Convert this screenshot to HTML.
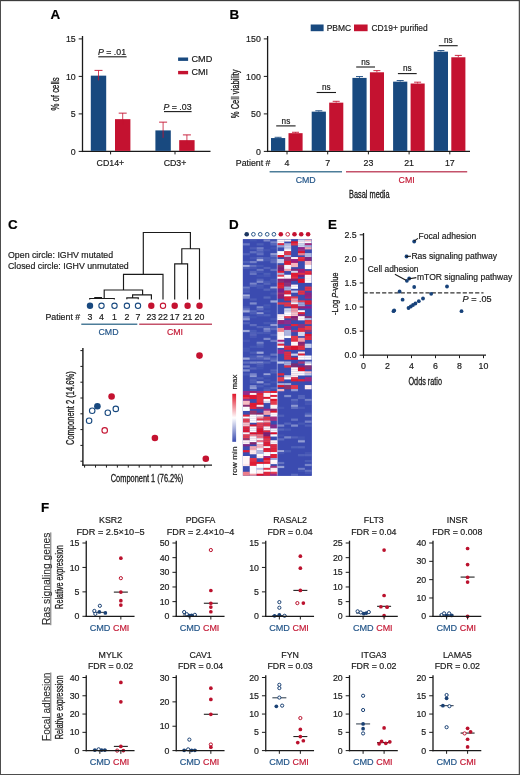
<!DOCTYPE html>
<html lang="en"><head><meta charset="utf-8"><title>Figure</title>
<style>
html,body{margin:0;padding:0;background:#fff;}
body{width:520px;height:775px;overflow:hidden;position:relative;}
svg{display:block;position:absolute;left:0;top:0;font-family:"Liberation Sans",sans-serif;}
#frame{position:absolute;left:0;top:0;width:520px;height:775px;box-sizing:border-box;border:1px solid #4d4d4d;border-top-color:#3c3c3c;box-shadow:inset -1px 0 0 0 rgba(0,0,0,0.18),inset 0 1px 0 0 rgba(0,0,0,0.12);pointer-events:none;}
</style></head><body>
<svg width="520" height="775" viewBox="0 0 520 775">
<rect x="0" y="0" width="520" height="775" fill="#fff"/>
<text transform="translate(50.50,19.00)" font-size="13.4" text-anchor="start" fill="#000" stroke="#000" stroke-width="0.18" font-weight="bold" >A</text>
<text transform="translate(229.50,19.00)" font-size="13.4" text-anchor="start" fill="#000" stroke="#000" stroke-width="0.18" font-weight="bold" >B</text>
<text transform="translate(8.00,229.00)" font-size="13.4" text-anchor="start" fill="#000" stroke="#000" stroke-width="0.18" font-weight="bold" >C</text>
<text transform="translate(229.00,229.00)" font-size="13.4" text-anchor="start" fill="#000" stroke="#000" stroke-width="0.18" font-weight="bold" >D</text>
<text transform="translate(328.00,229.00)" font-size="13.4" text-anchor="start" fill="#000" stroke="#000" stroke-width="0.18" font-weight="bold" >E</text>
<text transform="translate(41.00,512.00)" font-size="13.4" text-anchor="start" fill="#000" stroke="#000" stroke-width="0.18" font-weight="bold" >F</text>
<line x1="82.50" y1="36.00" x2="82.50" y2="152.05" stroke="#1a1a1a" stroke-width="1.3" />
<line x1="81.85" y1="151.40" x2="210.50" y2="151.40" stroke="#1a1a1a" stroke-width="1.3" />
<line x1="78.70" y1="151.40" x2="82.50" y2="151.40" stroke="#1a1a1a" stroke-width="1" />
<text transform="translate(75.70,154.50)" font-size="8.8" text-anchor="end" fill="#1a1a1a" stroke="#1a1a1a" stroke-width="0.18" >0</text>
<line x1="78.70" y1="113.90" x2="82.50" y2="113.90" stroke="#1a1a1a" stroke-width="1" />
<text transform="translate(75.70,117.00)" font-size="8.8" text-anchor="end" fill="#1a1a1a" stroke="#1a1a1a" stroke-width="0.18" >5</text>
<line x1="78.70" y1="76.40" x2="82.50" y2="76.40" stroke="#1a1a1a" stroke-width="1" />
<text transform="translate(75.70,79.50)" font-size="8.8" text-anchor="end" fill="#1a1a1a" stroke="#1a1a1a" stroke-width="0.18" >10</text>
<line x1="78.70" y1="38.90" x2="82.50" y2="38.90" stroke="#1a1a1a" stroke-width="1" />
<text transform="translate(75.70,42.00)" font-size="8.8" text-anchor="end" fill="#1a1a1a" stroke="#1a1a1a" stroke-width="0.18" >15</text>
<rect x="90.80" y="75.65" width="15.40" height="75.25" fill="#18497f"/>
<line x1="98.50" y1="70.40" x2="98.50" y2="80.38" stroke="#c41230" stroke-width="0.8" />
<line x1="94.50" y1="70.40" x2="102.50" y2="70.40" stroke="#c41230" stroke-width="0.9" />
<rect x="115.00" y="119.15" width="15.40" height="31.75" fill="#c41230"/>
<line x1="122.70" y1="113.15" x2="122.70" y2="124.55" stroke="#c41230" stroke-width="0.8" />
<line x1="118.70" y1="113.15" x2="126.70" y2="113.15" stroke="#c41230" stroke-width="0.9" />
<rect x="155.40" y="130.40" width="15.40" height="20.50" fill="#18497f"/>
<line x1="163.10" y1="122.15" x2="163.10" y2="137.83" stroke="#c41230" stroke-width="0.8" />
<line x1="159.10" y1="122.15" x2="167.10" y2="122.15" stroke="#c41230" stroke-width="0.9" />
<rect x="179.20" y="140.15" width="15.40" height="10.75" fill="#c41230"/>
<line x1="186.90" y1="134.90" x2="186.90" y2="144.88" stroke="#c41230" stroke-width="0.8" />
<line x1="182.90" y1="134.90" x2="190.90" y2="134.90" stroke="#c41230" stroke-width="0.9" />
<line x1="110.60" y1="151.40" x2="110.60" y2="154.40" stroke="#1a1a1a" stroke-width="1" />
<line x1="175.00" y1="151.40" x2="175.00" y2="154.40" stroke="#1a1a1a" stroke-width="1" />
<text transform="translate(110.40,165.50)" font-size="8.8" text-anchor="middle" fill="#1a1a1a" stroke="#1a1a1a" stroke-width="0.18" >CD14+</text>
<text transform="translate(175.00,165.50)" font-size="8.8" text-anchor="middle" fill="#1a1a1a" stroke="#1a1a1a" stroke-width="0.18" >CD3+</text>
<text transform="translate(58.80,93.90) rotate(-90)" font-size="10.01" text-anchor="middle" fill="#1a1a1a" stroke="#1a1a1a" stroke-width="0.3"  textLength="33.2" lengthAdjust="spacingAndGlyphs">% of cells</text>
<text transform="translate(112.00,55.00)" font-size="8.8" text-anchor="middle" fill="#1a1a1a" stroke="#1a1a1a" stroke-width="0.18" ><tspan font-style="italic">P</tspan> = .01</text>
<line x1="98.30" y1="56.80" x2="126.60" y2="56.80" stroke="#1a1a1a" stroke-width="1.1" />
<text transform="translate(177.50,109.50)" font-size="8.8" text-anchor="middle" fill="#1a1a1a" stroke="#1a1a1a" stroke-width="0.18" ><tspan font-style="italic">P</tspan> = .03</text>
<line x1="164.00" y1="111.60" x2="191.60" y2="111.60" stroke="#1a1a1a" stroke-width="1.1" />
<rect x="178.10" y="57.50" width="10.00" height="3.40" fill="#18497f"/>
<text transform="translate(191.50,61.80)" font-size="8.8" text-anchor="start" fill="#1a1a1a" stroke="#1a1a1a" stroke-width="0.18"  textLength="20.8" lengthAdjust="spacingAndGlyphs">CMD</text>
<rect x="178.10" y="70.90" width="10.00" height="3.40" fill="#c41230"/>
<text transform="translate(191.50,75.30)" font-size="8.8" text-anchor="start" fill="#1a1a1a" stroke="#1a1a1a" stroke-width="0.18"  textLength="16.5" lengthAdjust="spacingAndGlyphs">CMI</text>
<line x1="267.60" y1="36.00" x2="267.60" y2="152.05" stroke="#1a1a1a" stroke-width="1.3" />
<line x1="266.95" y1="151.40" x2="470.00" y2="151.40" stroke="#1a1a1a" stroke-width="1.3" />
<line x1="263.80" y1="151.40" x2="267.60" y2="151.40" stroke="#1a1a1a" stroke-width="1" />
<text transform="translate(260.80,154.50)" font-size="8.8" text-anchor="end" fill="#1a1a1a" stroke="#1a1a1a" stroke-width="0.18" >0</text>
<line x1="263.80" y1="113.90" x2="267.60" y2="113.90" stroke="#1a1a1a" stroke-width="1" />
<text transform="translate(260.80,117.00)" font-size="8.8" text-anchor="end" fill="#1a1a1a" stroke="#1a1a1a" stroke-width="0.18" >50</text>
<line x1="263.80" y1="76.40" x2="267.60" y2="76.40" stroke="#1a1a1a" stroke-width="1" />
<text transform="translate(260.80,79.50)" font-size="8.8" text-anchor="end" fill="#1a1a1a" stroke="#1a1a1a" stroke-width="0.18" >100</text>
<line x1="263.80" y1="38.90" x2="267.60" y2="38.90" stroke="#1a1a1a" stroke-width="1" />
<text transform="translate(260.80,42.00)" font-size="8.8" text-anchor="end" fill="#1a1a1a" stroke="#1a1a1a" stroke-width="0.18" >150</text>
<rect x="271.00" y="138.05" width="14.20" height="12.85" fill="#18497f"/>
<rect x="288.50" y="133.18" width="14.10" height="17.73" fill="#c41230"/>
<line x1="278.10" y1="138.05" x2="278.10" y2="137.30" stroke="#18497f" stroke-width="0.8" />
<line x1="274.60" y1="137.30" x2="281.60" y2="137.30" stroke="#18497f" stroke-width="0.9" />
<line x1="295.50" y1="133.18" x2="295.50" y2="132.28" stroke="#c41230" stroke-width="0.8" />
<line x1="292.00" y1="132.28" x2="299.00" y2="132.28" stroke="#c41230" stroke-width="0.9" />
<line x1="287.00" y1="151.40" x2="287.00" y2="154.40" stroke="#1a1a1a" stroke-width="1" />
<text transform="translate(287.00,165.80)" font-size="8.8" text-anchor="middle" fill="#1a1a1a" stroke="#1a1a1a" stroke-width="0.18" >4</text>
<text transform="translate(285.90,123.50)" font-size="8.2" text-anchor="middle" fill="#1a1a1a" stroke="#1a1a1a" stroke-width="0.18" >ns</text>
<line x1="276.20" y1="125.90" x2="295.60" y2="125.90" stroke="#1a1a1a" stroke-width="1.1" />
<rect x="311.70" y="111.65" width="14.20" height="39.25" fill="#18497f"/>
<rect x="329.20" y="102.65" width="14.10" height="48.25" fill="#c41230"/>
<line x1="318.80" y1="111.65" x2="318.80" y2="110.75" stroke="#18497f" stroke-width="0.8" />
<line x1="315.30" y1="110.75" x2="322.30" y2="110.75" stroke="#18497f" stroke-width="0.9" />
<line x1="336.20" y1="102.65" x2="336.20" y2="101.30" stroke="#c41230" stroke-width="0.8" />
<line x1="332.70" y1="101.30" x2="339.70" y2="101.30" stroke="#c41230" stroke-width="0.9" />
<line x1="327.70" y1="151.40" x2="327.70" y2="154.40" stroke="#1a1a1a" stroke-width="1" />
<text transform="translate(327.70,165.80)" font-size="8.8" text-anchor="middle" fill="#1a1a1a" stroke="#1a1a1a" stroke-width="0.18" >7</text>
<text transform="translate(326.30,90.10)" font-size="8.2" text-anchor="middle" fill="#1a1a1a" stroke="#1a1a1a" stroke-width="0.18" >ns</text>
<line x1="316.60" y1="92.50" x2="336.00" y2="92.50" stroke="#1a1a1a" stroke-width="1.1" />
<rect x="352.40" y="77.90" width="14.20" height="73.00" fill="#18497f"/>
<rect x="369.90" y="72.28" width="14.10" height="78.62" fill="#c41230"/>
<line x1="359.50" y1="77.90" x2="359.50" y2="76.55" stroke="#18497f" stroke-width="0.8" />
<line x1="356.00" y1="76.55" x2="363.00" y2="76.55" stroke="#18497f" stroke-width="0.9" />
<line x1="376.90" y1="72.28" x2="376.90" y2="70.62" stroke="#c41230" stroke-width="0.8" />
<line x1="373.40" y1="70.62" x2="380.40" y2="70.62" stroke="#c41230" stroke-width="0.9" />
<line x1="368.40" y1="151.40" x2="368.40" y2="154.40" stroke="#1a1a1a" stroke-width="1" />
<text transform="translate(368.40,165.80)" font-size="8.8" text-anchor="middle" fill="#1a1a1a" stroke="#1a1a1a" stroke-width="0.18" >23</text>
<text transform="translate(365.60,64.60)" font-size="8.2" text-anchor="middle" fill="#1a1a1a" stroke="#1a1a1a" stroke-width="0.18" >ns</text>
<line x1="356.20" y1="67.00" x2="375.00" y2="67.00" stroke="#1a1a1a" stroke-width="1.1" />
<rect x="393.10" y="81.65" width="14.20" height="69.25" fill="#18497f"/>
<rect x="410.60" y="83.53" width="14.10" height="67.38" fill="#c41230"/>
<line x1="400.20" y1="81.65" x2="400.20" y2="80.53" stroke="#18497f" stroke-width="0.8" />
<line x1="396.70" y1="80.53" x2="403.70" y2="80.53" stroke="#18497f" stroke-width="0.9" />
<line x1="417.60" y1="83.53" x2="417.60" y2="82.18" stroke="#c41230" stroke-width="0.8" />
<line x1="414.10" y1="82.18" x2="421.10" y2="82.18" stroke="#c41230" stroke-width="0.9" />
<line x1="409.10" y1="151.40" x2="409.10" y2="154.40" stroke="#1a1a1a" stroke-width="1" />
<text transform="translate(409.10,165.80)" font-size="8.8" text-anchor="middle" fill="#1a1a1a" stroke="#1a1a1a" stroke-width="0.18" >21</text>
<text transform="translate(407.30,71.20)" font-size="8.2" text-anchor="middle" fill="#1a1a1a" stroke="#1a1a1a" stroke-width="0.18" >ns</text>
<line x1="397.90" y1="73.60" x2="416.70" y2="73.60" stroke="#1a1a1a" stroke-width="1.1" />
<rect x="433.80" y="51.65" width="14.20" height="99.25" fill="#18497f"/>
<rect x="451.30" y="57.28" width="14.10" height="93.62" fill="#c41230"/>
<line x1="440.90" y1="51.65" x2="440.90" y2="50.53" stroke="#18497f" stroke-width="0.8" />
<line x1="437.40" y1="50.53" x2="444.40" y2="50.53" stroke="#18497f" stroke-width="0.9" />
<line x1="458.30" y1="57.28" x2="458.30" y2="55.40" stroke="#c41230" stroke-width="0.8" />
<line x1="454.80" y1="55.40" x2="461.80" y2="55.40" stroke="#c41230" stroke-width="0.9" />
<line x1="449.80" y1="151.40" x2="449.80" y2="154.40" stroke="#1a1a1a" stroke-width="1" />
<text transform="translate(449.80,165.80)" font-size="8.8" text-anchor="middle" fill="#1a1a1a" stroke="#1a1a1a" stroke-width="0.18" >17</text>
<text transform="translate(448.25,43.30)" font-size="8.2" text-anchor="middle" fill="#1a1a1a" stroke="#1a1a1a" stroke-width="0.18" >ns</text>
<line x1="438.80" y1="45.70" x2="457.70" y2="45.70" stroke="#1a1a1a" stroke-width="1.1" />
<text transform="translate(238.60,93.80) rotate(-90)" font-size="10.01" text-anchor="middle" fill="#1a1a1a" stroke="#1a1a1a" stroke-width="0.3"  textLength="48.8" lengthAdjust="spacingAndGlyphs">% Cell viability</text>
<text transform="translate(270.50,165.80)" font-size="8.8" text-anchor="end" fill="#1a1a1a" stroke="#1a1a1a" stroke-width="0.18" >Patient #</text>
<line x1="269.60" y1="171.80" x2="342.00" y2="171.80" stroke="#4d7d99" stroke-width="1.4" />
<line x1="346.00" y1="171.80" x2="467.20" y2="171.80" stroke="#c4526a" stroke-width="1.4" />
<text transform="translate(305.70,183.00)" font-size="8.8" text-anchor="middle" fill="#245689" stroke="#245689" stroke-width="0.18" >CMD</text>
<text transform="translate(406.60,183.00)" font-size="8.8" text-anchor="middle" fill="#c41a36" stroke="#c41a36" stroke-width="0.18" >CMI</text>
<text transform="translate(369.30,197.70)" font-size="10.01" text-anchor="middle" fill="#1a1a1a" stroke="#1a1a1a" stroke-width="0.3"  textLength="40.6" lengthAdjust="spacingAndGlyphs">Basal media</text>
<rect x="310.70" y="24.50" width="12.90" height="6.70" fill="#18497f"/>
<text transform="translate(326.70,31.00)" font-size="8.8" text-anchor="start" fill="#1a1a1a" stroke="#1a1a1a" stroke-width="0.18"  textLength="24.5" lengthAdjust="spacingAndGlyphs">PBMC</text>
<rect x="354.00" y="24.50" width="13.60" height="6.70" fill="#c41230"/>
<text transform="translate(371.40,31.00)" font-size="8.8" text-anchor="start" fill="#1a1a1a" stroke="#1a1a1a" stroke-width="0.18"  textLength="56.3" lengthAdjust="spacingAndGlyphs">CD19+ purified</text>
<text transform="translate(8.00,257.50)" font-size="8.8" text-anchor="start" fill="#1a1a1a" stroke="#1a1a1a" stroke-width="0.18" >Open circle: IGHV mutated</text>
<text transform="translate(8.00,268.80)" font-size="8.8" text-anchor="start" fill="#1a1a1a" stroke="#1a1a1a" stroke-width="0.18" >Closed circle: IGHV unmutated</text>
<path d="M143.3,274.3 L143.3,232.5 L190.4,232.5 L190.4,248.7 M181.8,263.8 L181.8,248.7 L199.5,248.7 L199.5,299.5 M174.7,299.5 L174.7,263.8 L187.6,263.8 L187.6,299.5 M123.5,290.0 L123.5,274.3 L163.0,274.3 L163.0,299.5 M104.2,298.4 L104.2,290.0 L142.6,290.0 L142.6,294.8 M132.6,297.7 L132.6,294.8 L151.4,294.8 L151.4,299.5 M126.8,299.3 L126.8,297.8 L138.3,297.8 L138.3,299.3 M89.7,299.5 L89.7,298.5 L114.3,298.5 L114.3,299.5 M94.8,298.4 L94.8,297.6 L101.5,297.6 L101.5,298.4" fill="none" stroke="#1a1a1a" stroke-width="1.15"/>
<circle cx="90.00" cy="305.80" r="3.2" fill="#18497f"/>
<text transform="translate(90.00,319.90)" font-size="8.8" text-anchor="middle" fill="#1a1a1a" stroke="#1a1a1a" stroke-width="0.18" >3</text>
<circle cx="101.50" cy="305.80" r="2.6750000000000003" fill="#fff" stroke="#18497f" stroke-width="1.05"/>
<text transform="translate(101.50,319.90)" font-size="8.8" text-anchor="middle" fill="#1a1a1a" stroke="#1a1a1a" stroke-width="0.18" >4</text>
<circle cx="114.50" cy="305.80" r="2.6750000000000003" fill="#fff" stroke="#18497f" stroke-width="1.05"/>
<text transform="translate(114.50,319.90)" font-size="8.8" text-anchor="middle" fill="#1a1a1a" stroke="#1a1a1a" stroke-width="0.18" >1</text>
<circle cx="126.90" cy="305.80" r="2.6750000000000003" fill="#fff" stroke="#18497f" stroke-width="1.05"/>
<text transform="translate(126.90,319.90)" font-size="8.8" text-anchor="middle" fill="#1a1a1a" stroke="#1a1a1a" stroke-width="0.18" >2</text>
<circle cx="138.00" cy="305.80" r="2.6750000000000003" fill="#fff" stroke="#18497f" stroke-width="1.05"/>
<text transform="translate(138.00,319.90)" font-size="8.8" text-anchor="middle" fill="#1a1a1a" stroke="#1a1a1a" stroke-width="0.18" >7</text>
<circle cx="151.30" cy="305.80" r="3.2" fill="#c41230"/>
<text transform="translate(151.30,319.90)" font-size="8.8" text-anchor="middle" fill="#1a1a1a" stroke="#1a1a1a" stroke-width="0.18" >23</text>
<circle cx="163.00" cy="305.80" r="2.6750000000000003" fill="#fff" stroke="#c41230" stroke-width="1.05"/>
<text transform="translate(163.00,319.90)" font-size="8.8" text-anchor="middle" fill="#1a1a1a" stroke="#1a1a1a" stroke-width="0.18" >22</text>
<circle cx="174.70" cy="305.80" r="3.2" fill="#c41230"/>
<text transform="translate(174.70,319.90)" font-size="8.8" text-anchor="middle" fill="#1a1a1a" stroke="#1a1a1a" stroke-width="0.18" >17</text>
<circle cx="187.60" cy="305.80" r="3.2" fill="#c41230"/>
<text transform="translate(187.60,319.90)" font-size="8.8" text-anchor="middle" fill="#1a1a1a" stroke="#1a1a1a" stroke-width="0.18" >21</text>
<circle cx="199.50" cy="305.80" r="3.2" fill="#c41230"/>
<text transform="translate(199.50,319.90)" font-size="8.8" text-anchor="middle" fill="#1a1a1a" stroke="#1a1a1a" stroke-width="0.18" >20</text>
<text transform="translate(80.20,319.90)" font-size="8.8" text-anchor="end" fill="#1a1a1a" stroke="#1a1a1a" stroke-width="0.18" >Patient #</text>
<line x1="81.30" y1="324.30" x2="137.30" y2="324.30" stroke="#4d7d99" stroke-width="1.4" />
<line x1="139.20" y1="324.30" x2="212.00" y2="324.30" stroke="#c4526a" stroke-width="1.4" />
<text transform="translate(108.50,334.80)" font-size="8.8" text-anchor="middle" fill="#245689" stroke="#245689" stroke-width="0.18" >CMD</text>
<text transform="translate(175.00,334.80)" font-size="8.8" text-anchor="middle" fill="#c41a36" stroke="#c41a36" stroke-width="0.18" >CMI</text>
<line x1="82.90" y1="348.00" x2="82.90" y2="465.80" stroke="#1a1a1a" stroke-width="1.4" />
<line x1="82.20" y1="465.10" x2="212.00" y2="465.10" stroke="#1a1a1a" stroke-width="1.4" />
<line x1="80.40" y1="350.60" x2="82.90" y2="350.60" stroke="#1a1a1a" stroke-width="1" />
<line x1="80.40" y1="366.40" x2="82.90" y2="366.40" stroke="#1a1a1a" stroke-width="1" />
<line x1="80.40" y1="382.20" x2="82.90" y2="382.20" stroke="#1a1a1a" stroke-width="1" />
<line x1="80.40" y1="398.00" x2="82.90" y2="398.00" stroke="#1a1a1a" stroke-width="1" />
<line x1="80.40" y1="413.80" x2="82.90" y2="413.80" stroke="#1a1a1a" stroke-width="1" />
<line x1="80.40" y1="429.60" x2="82.90" y2="429.60" stroke="#1a1a1a" stroke-width="1" />
<line x1="80.40" y1="445.40" x2="82.90" y2="445.40" stroke="#1a1a1a" stroke-width="1" />
<line x1="80.40" y1="461.20" x2="82.90" y2="461.20" stroke="#1a1a1a" stroke-width="1" />
<line x1="84.60" y1="465.10" x2="84.60" y2="467.60" stroke="#1a1a1a" stroke-width="1" />
<line x1="95.52" y1="465.10" x2="95.52" y2="467.60" stroke="#1a1a1a" stroke-width="1" />
<line x1="106.44" y1="465.10" x2="106.44" y2="467.60" stroke="#1a1a1a" stroke-width="1" />
<line x1="117.36" y1="465.10" x2="117.36" y2="467.60" stroke="#1a1a1a" stroke-width="1" />
<line x1="128.28" y1="465.10" x2="128.28" y2="467.60" stroke="#1a1a1a" stroke-width="1" />
<line x1="139.20" y1="465.10" x2="139.20" y2="467.60" stroke="#1a1a1a" stroke-width="1" />
<line x1="150.12" y1="465.10" x2="150.12" y2="467.60" stroke="#1a1a1a" stroke-width="1" />
<line x1="161.04" y1="465.10" x2="161.04" y2="467.60" stroke="#1a1a1a" stroke-width="1" />
<line x1="171.96" y1="465.10" x2="171.96" y2="467.60" stroke="#1a1a1a" stroke-width="1" />
<line x1="182.88" y1="465.10" x2="182.88" y2="467.60" stroke="#1a1a1a" stroke-width="1" />
<line x1="193.80" y1="465.10" x2="193.80" y2="467.60" stroke="#1a1a1a" stroke-width="1" />
<line x1="204.72" y1="465.10" x2="204.72" y2="467.60" stroke="#1a1a1a" stroke-width="1" />
<circle cx="199.50" cy="355.60" r="3.3" fill="#c41230"/>
<circle cx="111.60" cy="396.50" r="3.3" fill="#c41230"/>
<circle cx="97.40" cy="406.20" r="3.3" fill="#18497f"/>
<circle cx="92.20" cy="410.70" r="2.75" fill="#fff" stroke="#18497f" stroke-width="1.1"/>
<circle cx="115.80" cy="408.90" r="2.75" fill="#fff" stroke="#18497f" stroke-width="1.1"/>
<circle cx="107.80" cy="412.70" r="2.75" fill="#fff" stroke="#18497f" stroke-width="1.1"/>
<circle cx="89.10" cy="420.70" r="2.75" fill="#fff" stroke="#18497f" stroke-width="1.1"/>
<circle cx="104.70" cy="430.40" r="2.75" fill="#fff" stroke="#c41230" stroke-width="1.1"/>
<circle cx="154.90" cy="438.00" r="3.3" fill="#c41230"/>
<circle cx="205.80" cy="458.80" r="3.3" fill="#c41230"/>
<text transform="translate(147.00,481.60)" font-size="10.01" text-anchor="middle" fill="#1a1a1a" stroke="#1a1a1a" stroke-width="0.3"  textLength="72.5" lengthAdjust="spacingAndGlyphs">Component 1 (76.2%)</text>
<text transform="translate(73.80,408.20) rotate(-90)" font-size="10.01" text-anchor="middle" fill="#1a1a1a" stroke="#1a1a1a" stroke-width="0.3"  textLength="73.7" lengthAdjust="spacingAndGlyphs">Component 2 (14.6%)</text>
<rect x="242.90" y="239.30" width="68.80" height="236.40" fill="#3a4cb0"/>
<defs><filter id="hb" x="-5%" y="-5%" width="110%" height="110%"><feGaussianBlur stdDeviation="0.35 0.55"/></filter><clipPath id="hc"><rect x="242.90" y="239.30" width="68.80" height="236.40"/></clipPath></defs>
<g clip-path="url(#hc)"><g filter="url(#hb)"><rect x="239.90" y="236.30" width="74.80" height="242.40" fill="#3a4cb0"/><rect x="242.90" y="243.24" width="6.93" height="2.22" fill="#6a77c3"/><rect x="242.90" y="253.09" width="6.93" height="2.22" fill="#5261b9"/><rect x="242.90" y="260.97" width="6.93" height="2.22" fill="#5060b9"/><rect x="242.90" y="264.91" width="6.93" height="2.22" fill="#a7afdc"/><rect x="242.90" y="266.88" width="6.93" height="2.22" fill="#4e5eb8"/><rect x="242.90" y="286.58" width="6.93" height="2.22" fill="#6c7ac4"/><rect x="242.90" y="288.55" width="6.93" height="2.22" fill="#4c5cb7"/><rect x="242.90" y="290.52" width="6.93" height="2.22" fill="#4b5bb7"/><rect x="242.90" y="294.46" width="6.93" height="2.22" fill="#a8b0dc"/><rect x="242.90" y="296.43" width="6.93" height="2.22" fill="#7481c7"/><rect x="242.90" y="306.28" width="6.93" height="2.22" fill="#4a5ab6"/><rect x="242.90" y="308.25" width="6.93" height="2.22" fill="#6674c2"/><rect x="242.90" y="310.22" width="6.93" height="2.22" fill="#a1aad9"/><rect x="242.90" y="316.13" width="6.93" height="2.22" fill="#6a78c3"/><rect x="242.90" y="318.10" width="6.93" height="2.22" fill="#8c96d1"/><rect x="242.90" y="322.04" width="6.93" height="2.22" fill="#5161b9"/><rect x="242.90" y="329.92" width="6.93" height="2.22" fill="#9da6d8"/><rect x="242.90" y="339.77" width="6.93" height="2.22" fill="#4556b5"/><rect x="242.90" y="347.65" width="6.93" height="2.22" fill="#4456b4"/><rect x="242.90" y="349.62" width="6.93" height="2.22" fill="#4455b4"/><rect x="242.90" y="357.50" width="6.93" height="2.22" fill="#9fa8d9"/><rect x="242.90" y="361.44" width="6.93" height="2.22" fill="#5f6dbf"/><rect x="242.90" y="365.38" width="6.93" height="2.22" fill="#717ec6"/><rect x="242.90" y="369.32" width="6.93" height="2.22" fill="#838ecd"/><rect x="242.90" y="373.26" width="6.93" height="2.22" fill="#4859b6"/><rect x="242.90" y="390.99" width="6.93" height="2.22" fill="#922a8b"/><rect x="242.90" y="392.96" width="6.93" height="2.22" fill="#922a8b"/><rect x="242.90" y="394.93" width="6.93" height="2.22" fill="#df142c"/><rect x="242.90" y="396.90" width="6.93" height="2.22" fill="#e3374b"/><rect x="242.90" y="398.87" width="6.93" height="2.22" fill="#85358c"/><rect x="242.90" y="400.84" width="6.93" height="2.22" fill="#f6bdc3"/><rect x="242.90" y="402.81" width="6.93" height="2.22" fill="#f6bdc3"/><rect x="242.90" y="404.78" width="6.93" height="2.22" fill="#872e73"/><rect x="242.90" y="406.75" width="6.93" height="2.22" fill="#fcfdfe"/><rect x="242.90" y="408.72" width="6.93" height="2.22" fill="#fcfdfe"/><rect x="242.90" y="414.63" width="6.93" height="2.22" fill="#e1253b"/><rect x="242.90" y="416.60" width="6.93" height="2.22" fill="#fcfcfe"/><rect x="242.90" y="418.57" width="6.93" height="2.22" fill="#e43f52"/><rect x="242.90" y="420.54" width="6.93" height="2.22" fill="#e43f52"/><rect x="242.90" y="422.51" width="6.93" height="2.22" fill="#f6c0c7"/><rect x="242.90" y="424.48" width="6.93" height="2.22" fill="#f6c0c7"/><rect x="242.90" y="426.45" width="6.93" height="2.22" fill="#e1243a"/><rect x="242.90" y="428.42" width="6.93" height="2.22" fill="#e1243a"/><rect x="242.90" y="430.39" width="6.93" height="2.22" fill="#df152d"/><rect x="242.90" y="432.36" width="6.93" height="2.22" fill="#fdf3f4"/><rect x="242.90" y="434.33" width="6.93" height="2.22" fill="#e43e51"/><rect x="242.90" y="436.30" width="6.93" height="2.22" fill="#e43e51"/><rect x="242.90" y="438.27" width="6.93" height="2.22" fill="#9c3569"/><rect x="242.90" y="440.24" width="6.93" height="2.22" fill="#fdf1f3"/><rect x="242.90" y="442.21" width="6.93" height="2.22" fill="#fdf1f3"/><rect x="242.90" y="444.18" width="6.93" height="2.22" fill="#802986"/><rect x="242.90" y="450.09" width="6.93" height="2.22" fill="#e01f36"/><rect x="242.90" y="456.00" width="6.93" height="2.22" fill="#fef5f6"/><rect x="242.90" y="457.97" width="6.93" height="2.22" fill="#fef5f6"/><rect x="242.90" y="459.94" width="6.93" height="2.22" fill="#fef6f7"/><rect x="242.90" y="461.91" width="6.93" height="2.22" fill="#fef6f7"/><rect x="242.90" y="463.88" width="6.93" height="2.22" fill="#fce7ea"/><rect x="242.90" y="471.76" width="6.93" height="2.22" fill="#ed7e8b"/><rect x="242.90" y="473.73" width="6.93" height="2.22" fill="#ed7e8b"/><rect x="249.78" y="239.30" width="6.93" height="2.22" fill="#4254b3"/><rect x="249.78" y="247.18" width="6.93" height="2.22" fill="#4c5cb7"/><rect x="249.78" y="251.12" width="6.93" height="2.22" fill="#616fc0"/><rect x="249.78" y="257.03" width="6.93" height="2.22" fill="#4657b5"/><rect x="249.78" y="260.97" width="6.93" height="2.22" fill="#727fc7"/><rect x="249.78" y="264.91" width="6.93" height="2.22" fill="#6472c1"/><rect x="249.78" y="266.88" width="6.93" height="2.22" fill="#4657b5"/><rect x="249.78" y="270.82" width="6.93" height="2.22" fill="#5464ba"/><rect x="249.78" y="272.79" width="6.93" height="2.22" fill="#6674c2"/><rect x="249.78" y="282.64" width="6.93" height="2.22" fill="#7a86ca"/><rect x="249.78" y="284.61" width="6.93" height="2.22" fill="#5564bb"/><rect x="249.78" y="298.40" width="6.93" height="2.22" fill="#4c5cb7"/><rect x="249.78" y="302.34" width="6.93" height="2.22" fill="#808ccc"/><rect x="249.78" y="310.22" width="6.93" height="2.22" fill="#5767bc"/><rect x="249.78" y="312.19" width="6.93" height="2.22" fill="#4d5db8"/><rect x="249.78" y="316.13" width="6.93" height="2.22" fill="#4254b3"/><rect x="249.78" y="324.01" width="6.93" height="2.22" fill="#606ebf"/><rect x="249.78" y="329.92" width="6.93" height="2.22" fill="#4b5bb7"/><rect x="249.78" y="331.89" width="6.93" height="2.22" fill="#4f5fb8"/><rect x="249.78" y="333.86" width="6.93" height="2.22" fill="#5564bb"/><rect x="249.78" y="335.83" width="6.93" height="2.22" fill="#4657b5"/><rect x="249.78" y="345.68" width="6.93" height="2.22" fill="#4556b5"/><rect x="249.78" y="351.59" width="6.93" height="2.22" fill="#4c5cb7"/><rect x="249.78" y="355.53" width="6.93" height="2.22" fill="#4a5ab6"/><rect x="249.78" y="357.50" width="6.93" height="2.22" fill="#5463ba"/><rect x="249.78" y="361.44" width="6.93" height="2.22" fill="#7582c8"/><rect x="249.78" y="367.35" width="6.93" height="2.22" fill="#5463ba"/><rect x="249.78" y="373.26" width="6.93" height="2.22" fill="#7884c9"/><rect x="249.78" y="375.23" width="6.93" height="2.22" fill="#8f99d2"/><rect x="249.78" y="377.20" width="6.93" height="2.22" fill="#4657b5"/><rect x="249.78" y="379.17" width="6.93" height="2.22" fill="#5262ba"/><rect x="249.78" y="381.14" width="6.93" height="2.22" fill="#5060b9"/><rect x="249.78" y="385.08" width="6.93" height="2.22" fill="#808ccc"/><rect x="249.78" y="387.05" width="6.93" height="2.22" fill="#929cd3"/><rect x="249.78" y="389.02" width="6.93" height="2.22" fill="#4859b6"/><rect x="249.78" y="390.99" width="6.93" height="2.22" fill="#a3236c"/><rect x="249.78" y="392.96" width="6.93" height="2.22" fill="#fdf0f1"/><rect x="249.78" y="394.93" width="6.93" height="2.22" fill="#df1930"/><rect x="249.78" y="396.90" width="6.93" height="2.22" fill="#df1930"/><rect x="249.78" y="402.81" width="6.93" height="2.22" fill="#df1a31"/><rect x="249.78" y="404.78" width="6.93" height="2.22" fill="#df1a31"/><rect x="249.78" y="406.75" width="6.93" height="2.22" fill="#e1273d"/><rect x="249.78" y="410.69" width="6.93" height="2.22" fill="#93356c"/><rect x="249.78" y="412.66" width="6.93" height="2.22" fill="#93356c"/><rect x="249.78" y="414.63" width="6.93" height="2.22" fill="#fcfdfe"/><rect x="249.78" y="416.60" width="6.93" height="2.22" fill="#fef9fa"/><rect x="249.78" y="418.57" width="6.93" height="2.22" fill="#fdfdfe"/><rect x="249.78" y="420.54" width="6.93" height="2.22" fill="#fdfdfe"/><rect x="249.78" y="424.48" width="6.93" height="2.22" fill="#df172e"/><rect x="249.78" y="426.45" width="6.93" height="2.22" fill="#fef7f8"/><rect x="249.78" y="428.42" width="6.93" height="2.22" fill="#fef7f8"/><rect x="249.78" y="430.39" width="6.93" height="2.22" fill="#fefafb"/><rect x="249.78" y="432.36" width="6.93" height="2.22" fill="#de1129"/><rect x="249.78" y="434.33" width="6.93" height="2.22" fill="#ee818d"/><rect x="249.78" y="436.30" width="6.93" height="2.22" fill="#fdf3f4"/><rect x="249.78" y="438.27" width="6.93" height="2.22" fill="#fdf3f4"/><rect x="249.78" y="440.24" width="6.93" height="2.22" fill="#fffefe"/><rect x="249.78" y="442.21" width="6.93" height="2.22" fill="#89276e"/><rect x="249.78" y="446.15" width="6.93" height="2.22" fill="#f3aab3"/><rect x="249.78" y="448.12" width="6.93" height="2.22" fill="#f3aab3"/><rect x="249.78" y="450.09" width="6.93" height="2.22" fill="#fceaec"/><rect x="249.78" y="452.06" width="6.93" height="2.22" fill="#fceaec"/><rect x="249.78" y="457.97" width="6.93" height="2.22" fill="#e33549"/><rect x="249.78" y="459.94" width="6.93" height="2.22" fill="#e22f44"/><rect x="249.78" y="461.91" width="6.93" height="2.22" fill="#e01d34"/><rect x="249.78" y="463.88" width="6.93" height="2.22" fill="#e01d34"/><rect x="249.78" y="465.85" width="6.93" height="2.22" fill="#fbfbfd"/><rect x="249.78" y="467.82" width="6.93" height="2.22" fill="#fbfbfd"/><rect x="249.78" y="469.79" width="6.93" height="2.22" fill="#fffdfd"/><rect x="249.78" y="471.76" width="6.93" height="2.22" fill="#fffdfd"/><rect x="249.78" y="473.73" width="6.93" height="2.22" fill="#f198a2"/><rect x="256.66" y="243.24" width="6.93" height="2.22" fill="#4e5fb8"/><rect x="256.66" y="247.18" width="6.93" height="2.22" fill="#707dc6"/><rect x="256.66" y="249.15" width="6.93" height="2.22" fill="#606ebf"/><rect x="256.66" y="251.12" width="6.93" height="2.22" fill="#5262ba"/><rect x="256.66" y="253.09" width="6.93" height="2.22" fill="#6371c1"/><rect x="256.66" y="257.03" width="6.93" height="2.22" fill="#5f6ebf"/><rect x="256.66" y="259.00" width="6.93" height="2.22" fill="#a3abda"/><rect x="256.66" y="264.91" width="6.93" height="2.22" fill="#4758b5"/><rect x="256.66" y="268.85" width="6.93" height="2.22" fill="#6876c2"/><rect x="256.66" y="270.82" width="6.93" height="2.22" fill="#4455b4"/><rect x="256.66" y="274.76" width="6.93" height="2.22" fill="#4253b3"/><rect x="256.66" y="278.70" width="6.93" height="2.22" fill="#5463ba"/><rect x="256.66" y="280.67" width="6.93" height="2.22" fill="#7e8acb"/><rect x="256.66" y="284.61" width="6.93" height="2.22" fill="#4c5cb7"/><rect x="256.66" y="286.58" width="6.93" height="2.22" fill="#4657b5"/><rect x="256.66" y="306.28" width="6.93" height="2.22" fill="#808ccc"/><rect x="256.66" y="308.25" width="6.93" height="2.22" fill="#5a69bd"/><rect x="256.66" y="312.19" width="6.93" height="2.22" fill="#8f99d2"/><rect x="256.66" y="314.16" width="6.93" height="2.22" fill="#4859b6"/><rect x="256.66" y="325.98" width="6.93" height="2.22" fill="#5362ba"/><rect x="256.66" y="331.89" width="6.93" height="2.22" fill="#4a5ab6"/><rect x="256.66" y="341.74" width="6.93" height="2.22" fill="#7885c9"/><rect x="256.66" y="343.71" width="6.93" height="2.22" fill="#5363ba"/><rect x="256.66" y="345.68" width="6.93" height="2.22" fill="#4a5ab6"/><rect x="256.66" y="351.59" width="6.93" height="2.22" fill="#9fa8d9"/><rect x="256.66" y="355.53" width="6.93" height="2.22" fill="#7682c8"/><rect x="256.66" y="357.50" width="6.93" height="2.22" fill="#5262ba"/><rect x="256.66" y="361.44" width="6.93" height="2.22" fill="#7c88ca"/><rect x="256.66" y="363.41" width="6.93" height="2.22" fill="#5161b9"/><rect x="256.66" y="365.38" width="6.93" height="2.22" fill="#4a5ab6"/><rect x="256.66" y="367.35" width="6.93" height="2.22" fill="#4354b4"/><rect x="256.66" y="377.20" width="6.93" height="2.22" fill="#4e5eb8"/><rect x="256.66" y="381.14" width="6.93" height="2.22" fill="#99a2d6"/><rect x="256.66" y="385.08" width="6.93" height="2.22" fill="#4d5db8"/><rect x="256.66" y="390.99" width="6.93" height="2.22" fill="#992e87"/><rect x="256.66" y="392.96" width="6.93" height="2.22" fill="#e12239"/><rect x="256.66" y="394.93" width="6.93" height="2.22" fill="#e22d42"/><rect x="256.66" y="396.90" width="6.93" height="2.22" fill="#e22d42"/><rect x="256.66" y="398.87" width="6.93" height="2.22" fill="#e22e43"/><rect x="256.66" y="400.84" width="6.93" height="2.22" fill="#e22e43"/><rect x="256.66" y="402.81" width="6.93" height="2.22" fill="#df152c"/><rect x="256.66" y="404.78" width="6.93" height="2.22" fill="#fce8eb"/><rect x="256.66" y="406.75" width="6.93" height="2.22" fill="#99316c"/><rect x="256.66" y="412.66" width="6.93" height="2.22" fill="#84276f"/><rect x="256.66" y="414.63" width="6.93" height="2.22" fill="#f5f6fb"/><rect x="256.66" y="416.60" width="6.93" height="2.22" fill="#f198a3"/><rect x="256.66" y="418.57" width="6.93" height="2.22" fill="#e33247"/><rect x="256.66" y="420.54" width="6.93" height="2.22" fill="#fcfcfe"/><rect x="256.66" y="422.51" width="6.93" height="2.22" fill="#e53f52"/><rect x="256.66" y="424.48" width="6.93" height="2.22" fill="#e53f52"/><rect x="256.66" y="426.45" width="6.93" height="2.22" fill="#e4384c"/><rect x="256.66" y="428.42" width="6.93" height="2.22" fill="#df152c"/><rect x="256.66" y="430.39" width="6.93" height="2.22" fill="#de1128"/><rect x="256.66" y="432.36" width="6.93" height="2.22" fill="#df152c"/><rect x="256.66" y="434.33" width="6.93" height="2.22" fill="#ec7280"/><rect x="256.66" y="436.30" width="6.93" height="2.22" fill="#ec7280"/><rect x="256.66" y="438.27" width="6.93" height="2.22" fill="#fce9ec"/><rect x="256.66" y="440.24" width="6.93" height="2.22" fill="#eb7180"/><rect x="256.66" y="442.21" width="6.93" height="2.22" fill="#f7f8fc"/><rect x="256.66" y="444.18" width="6.93" height="2.22" fill="#f5b4bc"/><rect x="256.66" y="446.15" width="6.93" height="2.22" fill="#f5b4bc"/><rect x="256.66" y="448.12" width="6.93" height="2.22" fill="#f7f8fc"/><rect x="256.66" y="450.09" width="6.93" height="2.22" fill="#b1b8e0"/><rect x="256.66" y="452.06" width="6.93" height="2.22" fill="#b1b8e0"/><rect x="256.66" y="454.03" width="6.93" height="2.22" fill="#fffdfd"/><rect x="256.66" y="456.00" width="6.93" height="2.22" fill="#fce7ea"/><rect x="256.66" y="461.91" width="6.93" height="2.22" fill="#df152d"/><rect x="256.66" y="463.88" width="6.93" height="2.22" fill="#ffffff"/><rect x="256.66" y="465.85" width="6.93" height="2.22" fill="#ffffff"/><rect x="256.66" y="467.82" width="6.93" height="2.22" fill="#b9bfe3"/><rect x="256.66" y="469.79" width="6.93" height="2.22" fill="#fdf1f2"/><rect x="256.66" y="471.76" width="6.93" height="2.22" fill="#fdf1f2"/><rect x="256.66" y="473.73" width="6.93" height="2.22" fill="#de1129"/><rect x="263.54" y="239.30" width="6.93" height="2.22" fill="#7c88ca"/><rect x="263.54" y="249.15" width="6.93" height="2.22" fill="#4455b4"/><rect x="263.54" y="257.03" width="6.93" height="2.22" fill="#4d5db8"/><rect x="263.54" y="259.00" width="6.93" height="2.22" fill="#495ab6"/><rect x="263.54" y="266.88" width="6.93" height="2.22" fill="#5262ba"/><rect x="263.54" y="272.79" width="6.93" height="2.22" fill="#4e5eb8"/><rect x="263.54" y="274.76" width="6.93" height="2.22" fill="#4657b5"/><rect x="263.54" y="280.67" width="6.93" height="2.22" fill="#495ab6"/><rect x="263.54" y="282.64" width="6.93" height="2.22" fill="#5565bb"/><rect x="263.54" y="288.55" width="6.93" height="2.22" fill="#5464ba"/><rect x="263.54" y="296.43" width="6.93" height="2.22" fill="#5968bc"/><rect x="263.54" y="304.31" width="6.93" height="2.22" fill="#4859b6"/><rect x="263.54" y="306.28" width="6.93" height="2.22" fill="#4355b4"/><rect x="263.54" y="310.22" width="6.93" height="2.22" fill="#4355b4"/><rect x="263.54" y="314.16" width="6.93" height="2.22" fill="#5060b9"/><rect x="263.54" y="322.04" width="6.93" height="2.22" fill="#495ab6"/><rect x="263.54" y="325.98" width="6.93" height="2.22" fill="#4d5db8"/><rect x="263.54" y="327.95" width="6.93" height="2.22" fill="#7e8acb"/><rect x="263.54" y="329.92" width="6.93" height="2.22" fill="#6976c3"/><rect x="263.54" y="331.89" width="6.93" height="2.22" fill="#4859b6"/><rect x="263.54" y="337.80" width="6.93" height="2.22" fill="#7c88cb"/><rect x="263.54" y="355.53" width="6.93" height="2.22" fill="#4d5db7"/><rect x="263.54" y="357.50" width="6.93" height="2.22" fill="#6e7bc5"/><rect x="263.54" y="361.44" width="6.93" height="2.22" fill="#5363ba"/><rect x="263.54" y="373.26" width="6.93" height="2.22" fill="#98a1d6"/><rect x="263.54" y="375.23" width="6.93" height="2.22" fill="#4354b4"/><rect x="263.54" y="379.17" width="6.93" height="2.22" fill="#4455b4"/><rect x="263.54" y="383.11" width="6.93" height="2.22" fill="#5463ba"/><rect x="263.54" y="387.05" width="6.93" height="2.22" fill="#4556b4"/><rect x="263.54" y="389.02" width="6.93" height="2.22" fill="#4f5fb8"/><rect x="263.54" y="390.99" width="6.93" height="2.22" fill="#e3354a"/><rect x="263.54" y="392.96" width="6.93" height="2.22" fill="#fdf0f2"/><rect x="263.54" y="394.93" width="6.93" height="2.22" fill="#fdf0f2"/><rect x="263.54" y="396.90" width="6.93" height="2.22" fill="#de1229"/><rect x="263.54" y="398.87" width="6.93" height="2.22" fill="#fef9f9"/><rect x="263.54" y="400.84" width="6.93" height="2.22" fill="#d2d6ed"/><rect x="263.54" y="408.72" width="6.93" height="2.22" fill="#992885"/><rect x="263.54" y="410.69" width="6.93" height="2.22" fill="#f2a1ab"/><rect x="263.54" y="412.66" width="6.93" height="2.22" fill="#f2a1ab"/><rect x="263.54" y="416.60" width="6.93" height="2.22" fill="#e3384c"/><rect x="263.54" y="418.57" width="6.93" height="2.22" fill="#e3384c"/><rect x="263.54" y="420.54" width="6.93" height="2.22" fill="#f4adb5"/><rect x="263.54" y="422.51" width="6.93" height="2.22" fill="#e33146"/><rect x="263.54" y="424.48" width="6.93" height="2.22" fill="#e33146"/><rect x="263.54" y="426.45" width="6.93" height="2.22" fill="#fdf0f1"/><rect x="263.54" y="428.42" width="6.93" height="2.22" fill="#fdf0f1"/><rect x="263.54" y="430.39" width="6.93" height="2.22" fill="#e22a3f"/><rect x="263.54" y="432.36" width="6.93" height="2.22" fill="#7e1c70"/><rect x="263.54" y="434.33" width="6.93" height="2.22" fill="#7e1c70"/><rect x="263.54" y="436.30" width="6.93" height="2.22" fill="#e01e34"/><rect x="263.54" y="438.27" width="6.93" height="2.22" fill="#e3374b"/><rect x="263.54" y="440.24" width="6.93" height="2.22" fill="#e3374b"/><rect x="263.54" y="442.21" width="6.93" height="2.22" fill="#e01c32"/><rect x="263.54" y="444.18" width="6.93" height="2.22" fill="#e01c32"/><rect x="263.54" y="446.15" width="6.93" height="2.22" fill="#fdeef0"/><rect x="263.54" y="448.12" width="6.93" height="2.22" fill="#df152d"/><rect x="263.54" y="450.09" width="6.93" height="2.22" fill="#e1263b"/><rect x="263.54" y="452.06" width="6.93" height="2.22" fill="#fafbfd"/><rect x="263.54" y="454.03" width="6.93" height="2.22" fill="#fafbfd"/><rect x="263.54" y="456.00" width="6.93" height="2.22" fill="#a1247e"/><rect x="263.54" y="457.97" width="6.93" height="2.22" fill="#de1028"/><rect x="263.54" y="459.94" width="6.93" height="2.22" fill="#e53f53"/><rect x="263.54" y="461.91" width="6.93" height="2.22" fill="#df1a31"/><rect x="263.54" y="463.88" width="6.93" height="2.22" fill="#f8f9fc"/><rect x="263.54" y="465.85" width="6.93" height="2.22" fill="#f8f9fc"/><rect x="263.54" y="467.82" width="6.93" height="2.22" fill="#e33348"/><rect x="263.54" y="469.79" width="6.93" height="2.22" fill="#fef5f6"/><rect x="263.54" y="471.76" width="6.93" height="2.22" fill="#e1263c"/><rect x="263.54" y="473.73" width="6.93" height="2.22" fill="#e1263c"/><rect x="270.42" y="239.30" width="6.93" height="2.22" fill="#4253b3"/><rect x="270.42" y="241.27" width="6.93" height="2.22" fill="#7a86ca"/><rect x="270.42" y="243.24" width="6.93" height="2.22" fill="#5968bc"/><rect x="270.42" y="247.18" width="6.93" height="2.22" fill="#4455b4"/><rect x="270.42" y="253.09" width="6.93" height="2.22" fill="#959ed4"/><rect x="270.42" y="255.06" width="6.93" height="2.22" fill="#6371c0"/><rect x="270.42" y="257.03" width="6.93" height="2.22" fill="#4a5bb6"/><rect x="270.42" y="259.00" width="6.93" height="2.22" fill="#5a69bd"/><rect x="270.42" y="260.97" width="6.93" height="2.22" fill="#5f6dbf"/><rect x="270.42" y="268.85" width="6.93" height="2.22" fill="#6371c0"/><rect x="270.42" y="278.70" width="6.93" height="2.22" fill="#495ab6"/><rect x="270.42" y="280.67" width="6.93" height="2.22" fill="#4455b4"/><rect x="270.42" y="286.58" width="6.93" height="2.22" fill="#a0a9d9"/><rect x="270.42" y="288.55" width="6.93" height="2.22" fill="#4253b3"/><rect x="270.42" y="292.49" width="6.93" height="2.22" fill="#4757b5"/><rect x="270.42" y="300.37" width="6.93" height="2.22" fill="#9fa8d8"/><rect x="270.42" y="318.10" width="6.93" height="2.22" fill="#4758b5"/><rect x="270.42" y="322.04" width="6.93" height="2.22" fill="#4859b6"/><rect x="270.42" y="324.01" width="6.93" height="2.22" fill="#949dd4"/><rect x="270.42" y="325.98" width="6.93" height="2.22" fill="#4859b6"/><rect x="270.42" y="327.95" width="6.93" height="2.22" fill="#5a69bd"/><rect x="270.42" y="333.86" width="6.93" height="2.22" fill="#5060b9"/><rect x="270.42" y="339.77" width="6.93" height="2.22" fill="#6f7cc5"/><rect x="270.42" y="353.56" width="6.93" height="2.22" fill="#6876c2"/><rect x="270.42" y="357.50" width="6.93" height="2.22" fill="#5161b9"/><rect x="270.42" y="359.47" width="6.93" height="2.22" fill="#6674c2"/><rect x="270.42" y="369.32" width="6.93" height="2.22" fill="#5565bb"/><rect x="270.42" y="371.29" width="6.93" height="2.22" fill="#4f5fb8"/><rect x="270.42" y="381.14" width="6.93" height="2.22" fill="#4455b4"/><rect x="270.42" y="387.05" width="6.93" height="2.22" fill="#5262ba"/><rect x="270.42" y="390.99" width="6.93" height="2.22" fill="#e01b32"/><rect x="270.42" y="392.96" width="6.93" height="2.22" fill="#fefeff"/><rect x="270.42" y="394.93" width="6.93" height="2.22" fill="#e01e34"/><rect x="270.42" y="396.90" width="6.93" height="2.22" fill="#fdf2f3"/><rect x="270.42" y="398.87" width="6.93" height="2.22" fill="#de132a"/><rect x="270.42" y="400.84" width="6.93" height="2.22" fill="#e43c4f"/><rect x="270.42" y="402.81" width="6.93" height="2.22" fill="#e43c4f"/><rect x="270.42" y="404.78" width="6.93" height="2.22" fill="#fdf3f4"/><rect x="270.42" y="406.75" width="6.93" height="2.22" fill="#fdf3f4"/><rect x="270.42" y="408.72" width="6.93" height="2.22" fill="#8d266d"/><rect x="270.42" y="410.69" width="6.93" height="2.22" fill="#df152c"/><rect x="270.42" y="412.66" width="6.93" height="2.22" fill="#fef8f9"/><rect x="270.42" y="414.63" width="6.93" height="2.22" fill="#fef8f9"/><rect x="270.42" y="416.60" width="6.93" height="2.22" fill="#a93181"/><rect x="270.42" y="418.57" width="6.93" height="2.22" fill="#a93181"/><rect x="270.42" y="424.48" width="6.93" height="2.22" fill="#872a8a"/><rect x="270.42" y="426.45" width="6.93" height="2.22" fill="#872a8a"/><rect x="270.42" y="428.42" width="6.93" height="2.22" fill="#f6f6fb"/><rect x="270.42" y="430.39" width="6.93" height="2.22" fill="#f6f6fb"/><rect x="270.42" y="432.36" width="6.93" height="2.22" fill="#de1129"/><rect x="270.42" y="434.33" width="6.93" height="2.22" fill="#fdfdfe"/><rect x="270.42" y="440.24" width="6.93" height="2.22" fill="#fdeff0"/><rect x="270.42" y="442.21" width="6.93" height="2.22" fill="#fdeff0"/><rect x="270.42" y="444.18" width="6.93" height="2.22" fill="#e2293f"/><rect x="270.42" y="446.15" width="6.93" height="2.22" fill="#e2293f"/><rect x="270.42" y="448.12" width="6.93" height="2.22" fill="#e1253b"/><rect x="270.42" y="450.09" width="6.93" height="2.22" fill="#e1253b"/><rect x="270.42" y="452.06" width="6.93" height="2.22" fill="#fbfcfe"/><rect x="270.42" y="454.03" width="6.93" height="2.22" fill="#e02137"/><rect x="270.42" y="456.00" width="6.93" height="2.22" fill="#e02137"/><rect x="270.42" y="457.97" width="6.93" height="2.22" fill="#9ba4d7"/><rect x="270.42" y="459.94" width="6.93" height="2.22" fill="#fefbfc"/><rect x="270.42" y="461.91" width="6.93" height="2.22" fill="#fdf3f4"/><rect x="270.42" y="465.85" width="6.93" height="2.22" fill="#a23279"/><rect x="270.42" y="467.82" width="6.93" height="2.22" fill="#fcebed"/><rect x="270.42" y="469.79" width="6.93" height="2.22" fill="#fffdfd"/><rect x="270.42" y="471.76" width="6.93" height="2.22" fill="#e43d51"/><rect x="270.42" y="473.73" width="6.93" height="2.22" fill="#9d2a87"/><rect x="277.30" y="239.30" width="6.93" height="2.22" fill="#fef7f7"/><rect x="277.30" y="241.27" width="6.93" height="2.22" fill="#fef7f7"/><rect x="277.30" y="243.24" width="6.93" height="2.22" fill="#e22a40"/><rect x="277.30" y="245.21" width="6.93" height="2.22" fill="#949ed4"/><rect x="277.30" y="251.12" width="6.93" height="2.22" fill="#fffefe"/><rect x="277.30" y="253.09" width="6.93" height="2.22" fill="#fffefe"/><rect x="277.30" y="255.06" width="6.93" height="2.22" fill="#df142c"/><rect x="277.30" y="259.00" width="6.93" height="2.22" fill="#cacfea"/><rect x="277.30" y="260.97" width="6.93" height="2.22" fill="#cacfea"/><rect x="277.30" y="264.91" width="6.93" height="2.22" fill="#81306d"/><rect x="277.30" y="266.88" width="6.93" height="2.22" fill="#7d2074"/><rect x="277.30" y="268.85" width="6.93" height="2.22" fill="#7d2074"/><rect x="277.30" y="270.82" width="6.93" height="2.22" fill="#df152d"/><rect x="277.30" y="272.79" width="6.93" height="2.22" fill="#aab2dd"/><rect x="277.30" y="274.76" width="6.93" height="2.22" fill="#e43e52"/><rect x="277.30" y="276.73" width="6.93" height="2.22" fill="#fefafb"/><rect x="277.30" y="278.70" width="6.93" height="2.22" fill="#921f74"/><rect x="277.30" y="280.67" width="6.93" height="2.22" fill="#853277"/><rect x="277.30" y="282.64" width="6.93" height="2.22" fill="#df162d"/><rect x="277.30" y="284.61" width="6.93" height="2.22" fill="#e02238"/><rect x="277.30" y="286.58" width="6.93" height="2.22" fill="#e02238"/><rect x="277.30" y="288.55" width="6.93" height="2.22" fill="#7f1c86"/><rect x="277.30" y="290.52" width="6.93" height="2.22" fill="#7f1c86"/><rect x="277.30" y="292.49" width="6.93" height="2.22" fill="#a42e6e"/><rect x="277.30" y="294.46" width="6.93" height="2.22" fill="#911b71"/><rect x="277.30" y="296.43" width="6.93" height="2.22" fill="#911b71"/><rect x="277.30" y="302.34" width="6.93" height="2.22" fill="#e33549"/><rect x="277.30" y="314.16" width="6.93" height="2.22" fill="#fceaec"/><rect x="277.30" y="316.13" width="6.93" height="2.22" fill="#fef5f6"/><rect x="277.30" y="318.10" width="6.93" height="2.22" fill="#fef5f6"/><rect x="277.30" y="320.07" width="6.93" height="2.22" fill="#90287e"/><rect x="277.30" y="322.04" width="6.93" height="2.22" fill="#90287e"/><rect x="277.30" y="327.95" width="6.93" height="2.22" fill="#ee818d"/><rect x="277.30" y="329.92" width="6.93" height="2.22" fill="#ee818d"/><rect x="277.30" y="331.89" width="6.93" height="2.22" fill="#fdf0f2"/><rect x="277.30" y="333.86" width="6.93" height="2.22" fill="#fdf0f2"/><rect x="277.30" y="335.83" width="6.93" height="2.22" fill="#fef8f9"/><rect x="277.30" y="337.80" width="6.93" height="2.22" fill="#fef8f9"/><rect x="277.30" y="339.77" width="6.93" height="2.22" fill="#a91a7b"/><rect x="277.30" y="341.74" width="6.93" height="2.22" fill="#d3d7ed"/><rect x="277.30" y="343.71" width="6.93" height="2.22" fill="#e1253b"/><rect x="277.30" y="345.68" width="6.93" height="2.22" fill="#fef4f5"/><rect x="277.30" y="349.62" width="6.93" height="2.22" fill="#9b288f"/><rect x="277.30" y="351.59" width="6.93" height="2.22" fill="#9b288f"/><rect x="277.30" y="361.44" width="6.93" height="2.22" fill="#c8cde9"/><rect x="277.30" y="373.26" width="6.93" height="2.22" fill="#e12339"/><rect x="277.30" y="377.20" width="6.93" height="2.22" fill="#e4394c"/><rect x="277.30" y="379.17" width="6.93" height="2.22" fill="#e4394c"/><rect x="277.30" y="383.11" width="6.93" height="2.22" fill="#a3acda"/><rect x="277.30" y="385.08" width="6.93" height="2.22" fill="#df142c"/><rect x="277.30" y="389.02" width="6.93" height="2.22" fill="#f5b9c0"/><rect x="277.30" y="406.75" width="6.93" height="2.22" fill="#4556b5"/><rect x="277.30" y="414.63" width="6.93" height="2.22" fill="#5161b9"/><rect x="277.30" y="424.48" width="6.93" height="2.22" fill="#7b87ca"/><rect x="277.30" y="428.42" width="6.93" height="2.22" fill="#5565bb"/><rect x="277.30" y="434.33" width="6.93" height="2.22" fill="#4354b3"/><rect x="277.30" y="438.27" width="6.93" height="2.22" fill="#5c6bbe"/><rect x="277.30" y="450.09" width="6.93" height="2.22" fill="#9da6d8"/><rect x="277.30" y="452.06" width="6.93" height="2.22" fill="#4657b5"/><rect x="277.30" y="461.91" width="6.93" height="2.22" fill="#6573c1"/><rect x="277.30" y="465.85" width="6.93" height="2.22" fill="#96a0d5"/><rect x="284.18" y="239.30" width="6.93" height="2.22" fill="#fdf3f4"/><rect x="284.18" y="243.24" width="6.93" height="2.22" fill="#adb4de"/><rect x="284.18" y="245.21" width="6.93" height="2.22" fill="#c8cde9"/><rect x="284.18" y="247.18" width="6.93" height="2.22" fill="#c8cde9"/><rect x="284.18" y="249.15" width="6.93" height="2.22" fill="#f9fafd"/><rect x="284.18" y="251.12" width="6.93" height="2.22" fill="#e3364a"/><rect x="284.18" y="253.09" width="6.93" height="2.22" fill="#e3364a"/><rect x="284.18" y="255.06" width="6.93" height="2.22" fill="#a7afdc"/><rect x="284.18" y="257.03" width="6.93" height="2.22" fill="#9b3271"/><rect x="284.18" y="259.00" width="6.93" height="2.22" fill="#9b3271"/><rect x="284.18" y="260.97" width="6.93" height="2.22" fill="#e01f35"/><rect x="284.18" y="262.94" width="6.93" height="2.22" fill="#e01f35"/><rect x="284.18" y="264.91" width="6.93" height="2.22" fill="#f4f5fa"/><rect x="284.18" y="266.88" width="6.93" height="2.22" fill="#f4f5fa"/><rect x="284.18" y="268.85" width="6.93" height="2.22" fill="#f2a4ad"/><rect x="284.18" y="274.76" width="6.93" height="2.22" fill="#f8f9fc"/><rect x="284.18" y="276.73" width="6.93" height="2.22" fill="#fdf0f2"/><rect x="284.18" y="278.70" width="6.93" height="2.22" fill="#7d2278"/><rect x="284.18" y="280.67" width="6.93" height="2.22" fill="#7d2278"/><rect x="284.18" y="282.64" width="6.93" height="2.22" fill="#8b307d"/><rect x="284.18" y="284.61" width="6.93" height="2.22" fill="#8b307d"/><rect x="284.18" y="286.58" width="6.93" height="2.22" fill="#a2aada"/><rect x="284.18" y="288.55" width="6.93" height="2.22" fill="#a2aada"/><rect x="284.18" y="290.52" width="6.93" height="2.22" fill="#e12339"/><rect x="284.18" y="292.49" width="6.93" height="2.22" fill="#e12339"/><rect x="284.18" y="294.46" width="6.93" height="2.22" fill="#fffdfd"/><rect x="284.18" y="296.43" width="6.93" height="2.22" fill="#e01e35"/><rect x="284.18" y="298.40" width="6.93" height="2.22" fill="#e01e35"/><rect x="284.18" y="302.34" width="6.93" height="2.22" fill="#e3364a"/><rect x="284.18" y="304.31" width="6.93" height="2.22" fill="#e3364a"/><rect x="284.18" y="308.25" width="6.93" height="2.22" fill="#ced3eb"/><rect x="284.18" y="310.22" width="6.93" height="2.22" fill="#ced3eb"/><rect x="284.18" y="312.19" width="6.93" height="2.22" fill="#fefeff"/><rect x="284.18" y="314.16" width="6.93" height="2.22" fill="#fefeff"/><rect x="284.18" y="316.13" width="6.93" height="2.22" fill="#e43f52"/><rect x="284.18" y="320.07" width="6.93" height="2.22" fill="#8a2d8d"/><rect x="284.18" y="322.04" width="6.93" height="2.22" fill="#8a2d8d"/><rect x="284.18" y="325.98" width="6.93" height="2.22" fill="#a42082"/><rect x="284.18" y="327.95" width="6.93" height="2.22" fill="#a42082"/><rect x="284.18" y="329.92" width="6.93" height="2.22" fill="#adb4de"/><rect x="284.18" y="331.89" width="6.93" height="2.22" fill="#adb4de"/><rect x="284.18" y="333.86" width="6.93" height="2.22" fill="#a8b0dc"/><rect x="284.18" y="335.83" width="6.93" height="2.22" fill="#f8f9fc"/><rect x="284.18" y="345.68" width="6.93" height="2.22" fill="#e22f44"/><rect x="284.18" y="347.65" width="6.93" height="2.22" fill="#e1243a"/><rect x="284.18" y="351.59" width="6.93" height="2.22" fill="#e22d42"/><rect x="284.18" y="353.56" width="6.93" height="2.22" fill="#e22d42"/><rect x="284.18" y="355.53" width="6.93" height="2.22" fill="#e22c42"/><rect x="284.18" y="357.50" width="6.93" height="2.22" fill="#e22c42"/><rect x="284.18" y="361.44" width="6.93" height="2.22" fill="#a8b0dc"/><rect x="284.18" y="363.41" width="6.93" height="2.22" fill="#a8b0dc"/><rect x="284.18" y="365.38" width="6.93" height="2.22" fill="#e22f44"/><rect x="284.18" y="375.23" width="6.93" height="2.22" fill="#bcc2e4"/><rect x="284.18" y="377.20" width="6.93" height="2.22" fill="#fef7f8"/><rect x="284.18" y="383.11" width="6.93" height="2.22" fill="#a4addb"/><rect x="284.18" y="385.08" width="6.93" height="2.22" fill="#8e346a"/><rect x="284.18" y="387.05" width="6.93" height="2.22" fill="#8e346a"/><rect x="284.18" y="394.93" width="6.93" height="2.22" fill="#808ccc"/><rect x="284.18" y="422.51" width="6.93" height="2.22" fill="#5565bb"/><rect x="284.18" y="428.42" width="6.93" height="2.22" fill="#4859b6"/><rect x="284.18" y="436.30" width="6.93" height="2.22" fill="#7986c9"/><rect x="284.18" y="450.09" width="6.93" height="2.22" fill="#4c5db7"/><rect x="291.06" y="241.27" width="6.93" height="2.22" fill="#df162e"/><rect x="291.06" y="243.24" width="6.93" height="2.22" fill="#e33448"/><rect x="291.06" y="257.03" width="6.93" height="2.22" fill="#fdf0f2"/><rect x="291.06" y="259.00" width="6.93" height="2.22" fill="#962585"/><rect x="291.06" y="260.97" width="6.93" height="2.22" fill="#a11c78"/><rect x="291.06" y="262.94" width="6.93" height="2.22" fill="#f5b6bd"/><rect x="291.06" y="264.91" width="6.93" height="2.22" fill="#f5b6bd"/><rect x="291.06" y="268.85" width="6.93" height="2.22" fill="#832d79"/><rect x="291.06" y="270.82" width="6.93" height="2.22" fill="#d3d7ed"/><rect x="291.06" y="272.79" width="6.93" height="2.22" fill="#e01e34"/><rect x="291.06" y="274.76" width="6.93" height="2.22" fill="#e01e34"/><rect x="291.06" y="276.73" width="6.93" height="2.22" fill="#e33247"/><rect x="291.06" y="278.70" width="6.93" height="2.22" fill="#82226a"/><rect x="291.06" y="284.61" width="6.93" height="2.22" fill="#fdeff0"/><rect x="291.06" y="286.58" width="6.93" height="2.22" fill="#fffefe"/><rect x="291.06" y="290.52" width="6.93" height="2.22" fill="#c2c7e6"/><rect x="291.06" y="296.43" width="6.93" height="2.22" fill="#e43b4e"/><rect x="291.06" y="298.40" width="6.93" height="2.22" fill="#f19ca6"/><rect x="291.06" y="300.37" width="6.93" height="2.22" fill="#f19ca6"/><rect x="291.06" y="302.34" width="6.93" height="2.22" fill="#f4f5fb"/><rect x="291.06" y="304.31" width="6.93" height="2.22" fill="#e02238"/><rect x="291.06" y="306.28" width="6.93" height="2.22" fill="#e02238"/><rect x="291.06" y="308.25" width="6.93" height="2.22" fill="#f19ca6"/><rect x="291.06" y="310.22" width="6.93" height="2.22" fill="#f19ca6"/><rect x="291.06" y="312.19" width="6.93" height="2.22" fill="#f6c1c7"/><rect x="291.06" y="314.16" width="6.93" height="2.22" fill="#f6c1c7"/><rect x="291.06" y="316.13" width="6.93" height="2.22" fill="#8a1b70"/><rect x="291.06" y="318.10" width="6.93" height="2.22" fill="#86337c"/><rect x="291.06" y="324.01" width="6.93" height="2.22" fill="#e1253b"/><rect x="291.06" y="329.92" width="6.93" height="2.22" fill="#a3367a"/><rect x="291.06" y="335.83" width="6.93" height="2.22" fill="#e3384c"/><rect x="291.06" y="337.80" width="6.93" height="2.22" fill="#e3384c"/><rect x="291.06" y="339.77" width="6.93" height="2.22" fill="#e22f44"/><rect x="291.06" y="341.74" width="6.93" height="2.22" fill="#fefafa"/><rect x="291.06" y="343.71" width="6.93" height="2.22" fill="#fefafa"/><rect x="291.06" y="345.68" width="6.93" height="2.22" fill="#de122a"/><rect x="291.06" y="347.65" width="6.93" height="2.22" fill="#de122a"/><rect x="291.06" y="353.56" width="6.93" height="2.22" fill="#cacfea"/><rect x="291.06" y="357.50" width="6.93" height="2.22" fill="#de122a"/><rect x="291.06" y="363.41" width="6.93" height="2.22" fill="#7e2a72"/><rect x="291.06" y="365.38" width="6.93" height="2.22" fill="#7e2a72"/><rect x="291.06" y="367.35" width="6.93" height="2.22" fill="#fef4f5"/><rect x="291.06" y="369.32" width="6.93" height="2.22" fill="#fef5f6"/><rect x="291.06" y="371.29" width="6.93" height="2.22" fill="#fef5f6"/><rect x="291.06" y="373.26" width="6.93" height="2.22" fill="#fcebed"/><rect x="291.06" y="375.23" width="6.93" height="2.22" fill="#fcebed"/><rect x="291.06" y="377.20" width="6.93" height="2.22" fill="#e23045"/><rect x="291.06" y="379.17" width="6.93" height="2.22" fill="#e01c33"/><rect x="291.06" y="385.08" width="6.93" height="2.22" fill="#e4394d"/><rect x="291.06" y="387.05" width="6.93" height="2.22" fill="#e4394d"/><rect x="291.06" y="389.02" width="6.93" height="2.22" fill="#919bd3"/><rect x="291.06" y="398.87" width="6.93" height="2.22" fill="#5e6dbf"/><rect x="291.06" y="400.84" width="6.93" height="2.22" fill="#4859b6"/><rect x="291.06" y="402.81" width="6.93" height="2.22" fill="#4455b4"/><rect x="291.06" y="404.78" width="6.93" height="2.22" fill="#8d98d1"/><rect x="291.06" y="406.75" width="6.93" height="2.22" fill="#5f6ebf"/><rect x="291.06" y="418.57" width="6.93" height="2.22" fill="#6472c1"/><rect x="291.06" y="424.48" width="6.93" height="2.22" fill="#808ccc"/><rect x="291.06" y="436.30" width="6.93" height="2.22" fill="#5362ba"/><rect x="291.06" y="446.15" width="6.93" height="2.22" fill="#4f60b9"/><rect x="291.06" y="473.73" width="6.93" height="2.22" fill="#5c6bbe"/><rect x="297.94" y="239.30" width="6.93" height="2.22" fill="#d7dbef"/><rect x="297.94" y="241.27" width="6.93" height="2.22" fill="#fdf1f3"/><rect x="297.94" y="243.24" width="6.93" height="2.22" fill="#ced3eb"/><rect x="297.94" y="245.21" width="6.93" height="2.22" fill="#ced3eb"/><rect x="297.94" y="247.18" width="6.93" height="2.22" fill="#93208a"/><rect x="297.94" y="249.15" width="6.93" height="2.22" fill="#a2307d"/><rect x="297.94" y="251.12" width="6.93" height="2.22" fill="#df162e"/><rect x="297.94" y="253.09" width="6.93" height="2.22" fill="#ed808d"/><rect x="297.94" y="257.03" width="6.93" height="2.22" fill="#e33247"/><rect x="297.94" y="259.00" width="6.93" height="2.22" fill="#e1253b"/><rect x="297.94" y="268.85" width="6.93" height="2.22" fill="#a01d77"/><rect x="297.94" y="270.82" width="6.93" height="2.22" fill="#a01d77"/><rect x="297.94" y="272.79" width="6.93" height="2.22" fill="#e22f44"/><rect x="297.94" y="274.76" width="6.93" height="2.22" fill="#821e78"/><rect x="297.94" y="278.70" width="6.93" height="2.22" fill="#de1129"/><rect x="297.94" y="280.67" width="6.93" height="2.22" fill="#de1129"/><rect x="297.94" y="290.52" width="6.93" height="2.22" fill="#e23044"/><rect x="297.94" y="292.49" width="6.93" height="2.22" fill="#e23044"/><rect x="297.94" y="300.37" width="6.93" height="2.22" fill="#e43a4d"/><rect x="297.94" y="302.34" width="6.93" height="2.22" fill="#9aa3d6"/><rect x="297.94" y="304.31" width="6.93" height="2.22" fill="#9aa3d6"/><rect x="297.94" y="306.28" width="6.93" height="2.22" fill="#982370"/><rect x="297.94" y="310.22" width="6.93" height="2.22" fill="#fdfdfe"/><rect x="297.94" y="312.19" width="6.93" height="2.22" fill="#e02238"/><rect x="297.94" y="314.16" width="6.93" height="2.22" fill="#8f267d"/><rect x="297.94" y="316.13" width="6.93" height="2.22" fill="#fdf2f4"/><rect x="297.94" y="318.10" width="6.93" height="2.22" fill="#fdf2f4"/><rect x="297.94" y="324.01" width="6.93" height="2.22" fill="#893284"/><rect x="297.94" y="325.98" width="6.93" height="2.22" fill="#8e2f81"/><rect x="297.94" y="327.95" width="6.93" height="2.22" fill="#e22c41"/><rect x="297.94" y="329.92" width="6.93" height="2.22" fill="#e22c41"/><rect x="297.94" y="331.89" width="6.93" height="2.22" fill="#d4d8ee"/><rect x="297.94" y="333.86" width="6.93" height="2.22" fill="#d4d8ee"/><rect x="297.94" y="337.80" width="6.93" height="2.22" fill="#f2a2ac"/><rect x="297.94" y="339.77" width="6.93" height="2.22" fill="#f2a2ac"/><rect x="297.94" y="341.74" width="6.93" height="2.22" fill="#882576"/><rect x="297.94" y="343.71" width="6.93" height="2.22" fill="#97296c"/><rect x="297.94" y="345.68" width="6.93" height="2.22" fill="#e22e43"/><rect x="297.94" y="347.65" width="6.93" height="2.22" fill="#e22e43"/><rect x="297.94" y="351.59" width="6.93" height="2.22" fill="#fcebed"/><rect x="297.94" y="353.56" width="6.93" height="2.22" fill="#e02238"/><rect x="297.94" y="355.53" width="6.93" height="2.22" fill="#fffcfc"/><rect x="297.94" y="357.50" width="6.93" height="2.22" fill="#fffcfc"/><rect x="297.94" y="361.44" width="6.93" height="2.22" fill="#a83678"/><rect x="297.94" y="365.38" width="6.93" height="2.22" fill="#7f2679"/><rect x="297.94" y="367.35" width="6.93" height="2.22" fill="#de1028"/><rect x="297.94" y="369.32" width="6.93" height="2.22" fill="#de1028"/><rect x="297.94" y="371.29" width="6.93" height="2.22" fill="#f8f8fc"/><rect x="297.94" y="373.26" width="6.93" height="2.22" fill="#f8f8fc"/><rect x="297.94" y="379.17" width="6.93" height="2.22" fill="#e02137"/><rect x="297.94" y="394.93" width="6.93" height="2.22" fill="#5464bb"/><rect x="297.94" y="396.90" width="6.93" height="2.22" fill="#5766bb"/><rect x="297.94" y="406.75" width="6.93" height="2.22" fill="#4859b6"/><rect x="297.94" y="422.51" width="6.93" height="2.22" fill="#4758b5"/><rect x="297.94" y="436.30" width="6.93" height="2.22" fill="#4455b4"/><rect x="297.94" y="438.27" width="6.93" height="2.22" fill="#4556b4"/><rect x="297.94" y="440.24" width="6.93" height="2.22" fill="#929cd3"/><rect x="297.94" y="446.15" width="6.93" height="2.22" fill="#5564bb"/><rect x="297.94" y="454.03" width="6.93" height="2.22" fill="#5060b9"/><rect x="297.94" y="467.82" width="6.93" height="2.22" fill="#717ec6"/><rect x="297.94" y="469.79" width="6.93" height="2.22" fill="#4354b4"/><rect x="304.82" y="239.30" width="6.93" height="2.22" fill="#f6bcc3"/><rect x="304.82" y="241.27" width="6.93" height="2.22" fill="#fefbfb"/><rect x="304.82" y="243.24" width="6.93" height="2.22" fill="#a72a7d"/><rect x="304.82" y="245.21" width="6.93" height="2.22" fill="#a6aedb"/><rect x="304.82" y="247.18" width="6.93" height="2.22" fill="#f3a6af"/><rect x="304.82" y="253.09" width="6.93" height="2.22" fill="#b1b8e0"/><rect x="304.82" y="255.06" width="6.93" height="2.22" fill="#b1b8e0"/><rect x="304.82" y="257.03" width="6.93" height="2.22" fill="#7f287e"/><rect x="304.82" y="259.00" width="6.93" height="2.22" fill="#7f287e"/><rect x="304.82" y="260.97" width="6.93" height="2.22" fill="#f6bdc4"/><rect x="304.82" y="262.94" width="6.93" height="2.22" fill="#f6bdc4"/><rect x="304.82" y="264.91" width="6.93" height="2.22" fill="#fefbfb"/><rect x="304.82" y="266.88" width="6.93" height="2.22" fill="#fefbfb"/><rect x="304.82" y="270.82" width="6.93" height="2.22" fill="#e22c42"/><rect x="304.82" y="272.79" width="6.93" height="2.22" fill="#e12339"/><rect x="304.82" y="274.76" width="6.93" height="2.22" fill="#fef6f7"/><rect x="304.82" y="276.73" width="6.93" height="2.22" fill="#fef6f7"/><rect x="304.82" y="278.70" width="6.93" height="2.22" fill="#fef6f7"/><rect x="304.82" y="280.67" width="6.93" height="2.22" fill="#fefafb"/><rect x="304.82" y="286.58" width="6.93" height="2.22" fill="#e33448"/><rect x="304.82" y="288.55" width="6.93" height="2.22" fill="#e33448"/><rect x="304.82" y="292.49" width="6.93" height="2.22" fill="#8f2184"/><rect x="304.82" y="294.46" width="6.93" height="2.22" fill="#8f2184"/><rect x="304.82" y="296.43" width="6.93" height="2.22" fill="#a22275"/><rect x="304.82" y="300.37" width="6.93" height="2.22" fill="#e01b32"/><rect x="304.82" y="302.34" width="6.93" height="2.22" fill="#e01b32"/><rect x="304.82" y="306.28" width="6.93" height="2.22" fill="#99198e"/><rect x="304.82" y="316.13" width="6.93" height="2.22" fill="#80307a"/><rect x="304.82" y="318.10" width="6.93" height="2.22" fill="#b0b8df"/><rect x="304.82" y="320.07" width="6.93" height="2.22" fill="#e23145"/><rect x="304.82" y="322.04" width="6.93" height="2.22" fill="#e43a4e"/><rect x="304.82" y="325.98" width="6.93" height="2.22" fill="#e43a4e"/><rect x="304.82" y="327.95" width="6.93" height="2.22" fill="#e43a4e"/><rect x="304.82" y="329.92" width="6.93" height="2.22" fill="#963471"/><rect x="304.82" y="333.86" width="6.93" height="2.22" fill="#df162d"/><rect x="304.82" y="335.83" width="6.93" height="2.22" fill="#e22b40"/><rect x="304.82" y="337.80" width="6.93" height="2.22" fill="#e22b40"/><rect x="304.82" y="343.71" width="6.93" height="2.22" fill="#c8cde9"/><rect x="304.82" y="345.68" width="6.93" height="2.22" fill="#c8cde9"/><rect x="304.82" y="355.53" width="6.93" height="2.22" fill="#f8f9fc"/><rect x="304.82" y="357.50" width="6.93" height="2.22" fill="#f8f9fc"/><rect x="304.82" y="361.44" width="6.93" height="2.22" fill="#b9c0e3"/><rect x="304.82" y="363.41" width="6.93" height="2.22" fill="#fef7f8"/><rect x="304.82" y="365.38" width="6.93" height="2.22" fill="#8b2d72"/><rect x="304.82" y="367.35" width="6.93" height="2.22" fill="#8b2d72"/><rect x="304.82" y="371.29" width="6.93" height="2.22" fill="#f6c0c6"/><rect x="304.82" y="373.26" width="6.93" height="2.22" fill="#c3c9e7"/><rect x="304.82" y="377.20" width="6.93" height="2.22" fill="#a5267c"/><rect x="304.82" y="379.17" width="6.93" height="2.22" fill="#a5267c"/><rect x="304.82" y="385.08" width="6.93" height="2.22" fill="#fdedef"/><rect x="304.82" y="387.05" width="6.93" height="2.22" fill="#fdedef"/><rect x="304.82" y="398.87" width="6.93" height="2.22" fill="#7783c8"/><rect x="304.82" y="400.84" width="6.93" height="2.22" fill="#4455b4"/><rect x="304.82" y="402.81" width="6.93" height="2.22" fill="#4657b5"/><rect x="304.82" y="412.66" width="6.93" height="2.22" fill="#4d5eb8"/><rect x="304.82" y="414.63" width="6.93" height="2.22" fill="#7e89cb"/><rect x="304.82" y="420.54" width="6.93" height="2.22" fill="#7581c8"/><rect x="304.82" y="424.48" width="6.93" height="2.22" fill="#5060b9"/><rect x="304.82" y="452.06" width="6.93" height="2.22" fill="#4556b4"/><rect x="304.82" y="454.03" width="6.93" height="2.22" fill="#5362ba"/><rect x="304.82" y="459.94" width="6.93" height="2.22" fill="#4c5db7"/><rect x="304.82" y="463.88" width="6.93" height="2.22" fill="#7784c9"/><rect x="304.82" y="469.79" width="6.93" height="2.22" fill="#6573c1"/><rect x="304.82" y="471.76" width="6.93" height="2.22" fill="#4657b5"/></g></g>
<line x1="277.30" y1="239.30" x2="277.30" y2="475.70" stroke="#eeeeff" stroke-width="0.8" stroke-opacity="0.6"/>
<circle cx="246.70" cy="234.30" r="2.3" fill="#1b3560"/>
<circle cx="253.40" cy="234.30" r="1.8499999999999999" fill="#fff" stroke="#18497f" stroke-width="0.9"/>
<circle cx="260.20" cy="234.30" r="1.8499999999999999" fill="#fff" stroke="#18497f" stroke-width="0.9"/>
<circle cx="267.20" cy="234.30" r="1.8499999999999999" fill="#fff" stroke="#18497f" stroke-width="0.9"/>
<circle cx="273.90" cy="234.30" r="1.8499999999999999" fill="#fff" stroke="#18497f" stroke-width="0.9"/>
<circle cx="280.80" cy="234.30" r="2.3" fill="#c41230"/>
<circle cx="287.70" cy="234.30" r="1.8499999999999999" fill="#fff" stroke="#c41230" stroke-width="0.9"/>
<circle cx="294.50" cy="234.30" r="2.3" fill="#c41230"/>
<circle cx="301.20" cy="234.30" r="2.3" fill="#c41230"/>
<circle cx="308.10" cy="234.30" r="2.3" fill="#c41230"/>
<defs><linearGradient id="cb" x1="0" y1="0" x2="0" y2="1"><stop offset="0" stop-color="#e01428"/><stop offset="0.5" stop-color="#ffffff"/><stop offset="1" stop-color="#3a4cb0"/></linearGradient></defs>
<rect x="232.3" y="393.8" width="3.8" height="48" fill="url(#cb)"/>
<text transform="translate(237.00,389.50) rotate(-90)" font-size="8" text-anchor="start" fill="#1a1a1a" stroke="#1a1a1a" stroke-width="0.18"  textLength="14.9" lengthAdjust="spacingAndGlyphs">max</text>
<text transform="translate(237.00,475.50) rotate(-90)" font-size="8" text-anchor="start" fill="#1a1a1a" stroke="#1a1a1a" stroke-width="0.18"  textLength="29" lengthAdjust="spacingAndGlyphs">row min</text>
<line x1="363.50" y1="233.00" x2="363.50" y2="355.85" stroke="#1a1a1a" stroke-width="1.3" />
<line x1="362.85" y1="355.20" x2="486.00" y2="355.20" stroke="#1a1a1a" stroke-width="1.3" />
<line x1="359.70" y1="355.20" x2="363.50" y2="355.20" stroke="#1a1a1a" stroke-width="1" />
<text transform="translate(356.70,358.30)" font-size="8.8" text-anchor="end" fill="#1a1a1a" stroke="#1a1a1a" stroke-width="0.18" >0.0</text>
<line x1="359.70" y1="331.12" x2="363.50" y2="331.12" stroke="#1a1a1a" stroke-width="1" />
<text transform="translate(356.70,334.23)" font-size="8.8" text-anchor="end" fill="#1a1a1a" stroke="#1a1a1a" stroke-width="0.18" >0.5</text>
<line x1="359.70" y1="307.05" x2="363.50" y2="307.05" stroke="#1a1a1a" stroke-width="1" />
<text transform="translate(356.70,310.15)" font-size="8.8" text-anchor="end" fill="#1a1a1a" stroke="#1a1a1a" stroke-width="0.18" >1.0</text>
<line x1="359.70" y1="282.98" x2="363.50" y2="282.98" stroke="#1a1a1a" stroke-width="1" />
<text transform="translate(356.70,286.08)" font-size="8.8" text-anchor="end" fill="#1a1a1a" stroke="#1a1a1a" stroke-width="0.18" >1.5</text>
<line x1="359.70" y1="258.90" x2="363.50" y2="258.90" stroke="#1a1a1a" stroke-width="1" />
<text transform="translate(356.70,262.00)" font-size="8.8" text-anchor="end" fill="#1a1a1a" stroke="#1a1a1a" stroke-width="0.18" >2.0</text>
<line x1="359.70" y1="234.82" x2="363.50" y2="234.82" stroke="#1a1a1a" stroke-width="1" />
<text transform="translate(356.70,237.92)" font-size="8.8" text-anchor="end" fill="#1a1a1a" stroke="#1a1a1a" stroke-width="0.18" >2.5</text>
<line x1="363.50" y1="355.20" x2="363.50" y2="358.20" stroke="#1a1a1a" stroke-width="1" />
<text transform="translate(363.50,369.30)" font-size="8.8" text-anchor="middle" fill="#1a1a1a" stroke="#1a1a1a" stroke-width="0.18" >0</text>
<line x1="387.50" y1="355.20" x2="387.50" y2="358.20" stroke="#1a1a1a" stroke-width="1" />
<text transform="translate(387.50,369.30)" font-size="8.8" text-anchor="middle" fill="#1a1a1a" stroke="#1a1a1a" stroke-width="0.18" >2</text>
<line x1="411.50" y1="355.20" x2="411.50" y2="358.20" stroke="#1a1a1a" stroke-width="1" />
<text transform="translate(411.50,369.30)" font-size="8.8" text-anchor="middle" fill="#1a1a1a" stroke="#1a1a1a" stroke-width="0.18" >4</text>
<line x1="435.50" y1="355.20" x2="435.50" y2="358.20" stroke="#1a1a1a" stroke-width="1" />
<text transform="translate(435.50,369.30)" font-size="8.8" text-anchor="middle" fill="#1a1a1a" stroke="#1a1a1a" stroke-width="0.18" >6</text>
<line x1="459.50" y1="355.20" x2="459.50" y2="358.20" stroke="#1a1a1a" stroke-width="1" />
<text transform="translate(459.50,369.30)" font-size="8.8" text-anchor="middle" fill="#1a1a1a" stroke="#1a1a1a" stroke-width="0.18" >8</text>
<line x1="483.50" y1="355.20" x2="483.50" y2="358.20" stroke="#1a1a1a" stroke-width="1" />
<text transform="translate(483.50,369.30)" font-size="8.8" text-anchor="middle" fill="#1a1a1a" stroke="#1a1a1a" stroke-width="0.18" >10</text>
<text transform="translate(425.20,384.60)" font-size="10.01" text-anchor="middle" fill="#1a1a1a" stroke="#1a1a1a" stroke-width="0.3"  textLength="33.5" lengthAdjust="spacingAndGlyphs">Odds ratio</text>
<text transform="translate(337.50,293.70) rotate(-90)" font-size="9.6" text-anchor="middle" fill="#1a1a1a" stroke="#1a1a1a" stroke-width="0.3"  textLength="42.4" lengthAdjust="spacingAndGlyphs">-Log <tspan font-style="italic">P</tspan>-value</text>
<line x1="363.50" y1="292.80" x2="483.50" y2="292.80" stroke="#333" stroke-width="1.15" stroke-dasharray="4.2,2"/>
<circle cx="414.20" cy="241.50" r="1.9" fill="#17427a"/>
<circle cx="406.50" cy="256.50" r="1.9" fill="#17427a"/>
<circle cx="409.20" cy="278.50" r="1.9" fill="#17427a"/>
<circle cx="406.90" cy="280.80" r="1.9" fill="#17427a"/>
<circle cx="414.20" cy="287.00" r="1.9" fill="#17427a"/>
<circle cx="447.00" cy="286.50" r="1.9" fill="#17427a"/>
<circle cx="399.60" cy="291.50" r="1.9" fill="#17427a"/>
<circle cx="431.20" cy="293.80" r="1.9" fill="#17427a"/>
<circle cx="402.60" cy="299.70" r="1.9" fill="#17427a"/>
<circle cx="423.00" cy="298.50" r="1.9" fill="#17427a"/>
<circle cx="418.80" cy="301.20" r="1.9" fill="#17427a"/>
<circle cx="415.40" cy="303.50" r="1.9" fill="#17427a"/>
<circle cx="413.00" cy="305.00" r="1.9" fill="#17427a"/>
<circle cx="410.80" cy="306.50" r="1.9" fill="#17427a"/>
<circle cx="408.50" cy="308.00" r="1.9" fill="#17427a"/>
<circle cx="394.20" cy="310.40" r="1.9" fill="#17427a"/>
<circle cx="393.50" cy="311.20" r="1.9" fill="#17427a"/>
<circle cx="461.50" cy="311.20" r="1.9" fill="#17427a"/>
<text transform="translate(418.50,238.50)" font-size="8.5" text-anchor="start" fill="#1a1a1a" stroke="#1a1a1a" stroke-width="0.18"  textLength="57.8" lengthAdjust="spacingAndGlyphs">Focal adhesion</text>
<text transform="translate(411.40,258.80)" font-size="8.5" text-anchor="start" fill="#1a1a1a" stroke="#1a1a1a" stroke-width="0.18"  textLength="85.6" lengthAdjust="spacingAndGlyphs">Ras signaling pathway</text>
<text transform="translate(367.70,271.90)" font-size="8.5" text-anchor="start" fill="#1a1a1a" stroke="#1a1a1a" stroke-width="0.18"  textLength="50.8" lengthAdjust="spacingAndGlyphs">Cell adhesion</text>
<text transform="translate(417.00,279.80)" font-size="8.5" text-anchor="start" fill="#1a1a1a" stroke="#1a1a1a" stroke-width="0.18"  textLength="95.3" lengthAdjust="spacingAndGlyphs">mTOR signaling pathway</text>
<line x1="394.90" y1="274.30" x2="406.00" y2="280.20" stroke="#1a1a1a" stroke-width="1.1" />
<line x1="414.20" y1="241.00" x2="418.00" y2="238.40" stroke="#1a1a1a" stroke-width="1.1" />
<line x1="406.20" y1="256.40" x2="411.00" y2="256.20" stroke="#1a1a1a" stroke-width="1.1" />
<line x1="408.00" y1="279.00" x2="416.30" y2="277.60" stroke="#1a1a1a" stroke-width="1.1" />
<text transform="translate(462.50,301.60)" font-size="8.8" text-anchor="start" fill="#1a1a1a" stroke="#1a1a1a" stroke-width="0.18"  textLength="29.2" lengthAdjust="spacingAndGlyphs"><tspan font-style="italic">P</tspan> = .05</text>
<line x1="92.85" y1="612.39" x2="106.85" y2="612.39" stroke="#3a4654" stroke-width="1.1" />
<line x1="113.85" y1="592.11" x2="127.85" y2="592.11" stroke="#222" stroke-width="1.1" />
<circle cx="99.85" cy="605.79" r="1.6" fill="#fff" stroke="#1a4174" stroke-width="1.0"/>
<circle cx="94.35" cy="610.92" r="1.6" fill="#fff" stroke="#1a4174" stroke-width="1.0"/>
<circle cx="99.35" cy="611.90" r="1.85" fill="#1a4174"/>
<circle cx="105.35" cy="612.88" r="1.85" fill="#1a4174"/>
<circle cx="95.35" cy="613.86" r="1.6" fill="#fff" stroke="#1a4174" stroke-width="1.0"/>
<circle cx="120.85" cy="558.15" r="1.85" fill="#bb112d"/>
<circle cx="120.85" cy="578.18" r="1.6" fill="#fff" stroke="#bb112d" stroke-width="1.0"/>
<circle cx="120.85" cy="592.11" r="1.85" fill="#bb112d"/>
<circle cx="120.85" cy="600.66" r="1.85" fill="#bb112d"/>
<circle cx="120.85" cy="605.06" r="1.85" fill="#bb112d"/>
<line x1="86.25" y1="540.70" x2="86.25" y2="616.95" stroke="#1a1a1a" stroke-width="1.3" />
<line x1="85.60" y1="616.30" x2="134.55" y2="616.30" stroke="#1a1a1a" stroke-width="1.3" />
<line x1="82.45" y1="616.30" x2="86.25" y2="616.30" stroke="#1a1a1a" stroke-width="1" />
<text transform="translate(79.45,619.40)" font-size="8.8" text-anchor="end" fill="#1a1a1a" stroke="#1a1a1a" stroke-width="0.18" >0</text>
<line x1="82.45" y1="591.87" x2="86.25" y2="591.87" stroke="#1a1a1a" stroke-width="1" />
<text transform="translate(79.45,594.97)" font-size="8.8" text-anchor="end" fill="#1a1a1a" stroke="#1a1a1a" stroke-width="0.18" >5</text>
<line x1="82.45" y1="567.43" x2="86.25" y2="567.43" stroke="#1a1a1a" stroke-width="1" />
<text transform="translate(79.45,570.53)" font-size="8.8" text-anchor="end" fill="#1a1a1a" stroke="#1a1a1a" stroke-width="0.18" >10</text>
<line x1="82.45" y1="543.00" x2="86.25" y2="543.00" stroke="#1a1a1a" stroke-width="1" />
<text transform="translate(79.45,546.10)" font-size="8.8" text-anchor="end" fill="#1a1a1a" stroke="#1a1a1a" stroke-width="0.18" >15</text>
<line x1="99.85" y1="616.30" x2="99.85" y2="619.50" stroke="#1a1a1a" stroke-width="1" />
<line x1="120.85" y1="616.30" x2="120.85" y2="619.50" stroke="#1a1a1a" stroke-width="1" />
<text transform="translate(100.05,630.70)" font-size="9.2" text-anchor="middle" fill="#245689" stroke="#245689" stroke-width="0.18"  textLength="20.8" lengthAdjust="spacingAndGlyphs">CMD</text>
<text transform="translate(121.15,630.70)" font-size="9.2" text-anchor="middle" fill="#c41a36" stroke="#c41a36" stroke-width="0.18"  textLength="16.4" lengthAdjust="spacingAndGlyphs">CMI</text>
<text transform="translate(110.55,523.30)" font-size="8.8" text-anchor="middle" fill="#1a1a1a" stroke="#1a1a1a" stroke-width="0.18" >KSR2</text>
<text transform="translate(110.55,534.60)" font-size="8.8" text-anchor="middle" fill="#1a1a1a" stroke="#1a1a1a" stroke-width="0.18"  textLength="68.2" lengthAdjust="spacingAndGlyphs">FDR = 2.5×10−5</text>
<line x1="182.85" y1="614.98" x2="196.85" y2="614.98" stroke="#3a4654" stroke-width="1.1" />
<line x1="203.85" y1="603.25" x2="217.85" y2="603.25" stroke="#222" stroke-width="1.1" />
<circle cx="184.15" cy="612.05" r="1.6" fill="#fff" stroke="#1a4174" stroke-width="1.0"/>
<circle cx="186.85" cy="614.25" r="1.6" fill="#fff" stroke="#1a4174" stroke-width="1.0"/>
<circle cx="189.35" cy="615.71" r="1.85" fill="#1a4174"/>
<circle cx="191.65" cy="615.27" r="1.85" fill="#1a4174"/>
<circle cx="194.85" cy="614.83" r="1.6" fill="#fff" stroke="#1a4174" stroke-width="1.0"/>
<circle cx="210.85" cy="550.04" r="1.6" fill="#fff" stroke="#bb112d" stroke-width="1.0"/>
<circle cx="210.85" cy="590.50" r="1.85" fill="#bb112d"/>
<circle cx="210.85" cy="603.25" r="1.85" fill="#bb112d"/>
<circle cx="210.85" cy="607.06" r="1.85" fill="#bb112d"/>
<circle cx="210.85" cy="611.76" r="1.85" fill="#bb112d"/>
<line x1="176.25" y1="540.70" x2="176.25" y2="616.95" stroke="#1a1a1a" stroke-width="1.3" />
<line x1="175.60" y1="616.30" x2="224.55" y2="616.30" stroke="#1a1a1a" stroke-width="1.3" />
<line x1="172.45" y1="616.30" x2="176.25" y2="616.30" stroke="#1a1a1a" stroke-width="1" />
<text transform="translate(169.45,619.40)" font-size="8.8" text-anchor="end" fill="#1a1a1a" stroke="#1a1a1a" stroke-width="0.18" >0</text>
<line x1="172.45" y1="601.64" x2="176.25" y2="601.64" stroke="#1a1a1a" stroke-width="1" />
<text transform="translate(169.45,604.74)" font-size="8.8" text-anchor="end" fill="#1a1a1a" stroke="#1a1a1a" stroke-width="0.18" >10</text>
<line x1="172.45" y1="586.98" x2="176.25" y2="586.98" stroke="#1a1a1a" stroke-width="1" />
<text transform="translate(169.45,590.08)" font-size="8.8" text-anchor="end" fill="#1a1a1a" stroke="#1a1a1a" stroke-width="0.18" >20</text>
<line x1="172.45" y1="572.32" x2="176.25" y2="572.32" stroke="#1a1a1a" stroke-width="1" />
<text transform="translate(169.45,575.42)" font-size="8.8" text-anchor="end" fill="#1a1a1a" stroke="#1a1a1a" stroke-width="0.18" >30</text>
<line x1="172.45" y1="557.66" x2="176.25" y2="557.66" stroke="#1a1a1a" stroke-width="1" />
<text transform="translate(169.45,560.76)" font-size="8.8" text-anchor="end" fill="#1a1a1a" stroke="#1a1a1a" stroke-width="0.18" >40</text>
<line x1="172.45" y1="543.00" x2="176.25" y2="543.00" stroke="#1a1a1a" stroke-width="1" />
<text transform="translate(169.45,546.10)" font-size="8.8" text-anchor="end" fill="#1a1a1a" stroke="#1a1a1a" stroke-width="0.18" >50</text>
<line x1="189.85" y1="616.30" x2="189.85" y2="619.50" stroke="#1a1a1a" stroke-width="1" />
<line x1="210.85" y1="616.30" x2="210.85" y2="619.50" stroke="#1a1a1a" stroke-width="1" />
<text transform="translate(190.05,630.70)" font-size="9.2" text-anchor="middle" fill="#245689" stroke="#245689" stroke-width="0.18"  textLength="20.8" lengthAdjust="spacingAndGlyphs">CMD</text>
<text transform="translate(211.15,630.70)" font-size="9.2" text-anchor="middle" fill="#c41a36" stroke="#c41a36" stroke-width="0.18"  textLength="16.4" lengthAdjust="spacingAndGlyphs">CMI</text>
<text transform="translate(200.55,523.30)" font-size="8.8" text-anchor="middle" fill="#1a1a1a" stroke="#1a1a1a" stroke-width="0.18" >PDGFA</text>
<text transform="translate(200.55,534.60)" font-size="8.8" text-anchor="middle" fill="#1a1a1a" stroke="#1a1a1a" stroke-width="0.18"  textLength="67.6" lengthAdjust="spacingAndGlyphs">FDR = 2.4×10−4</text>
<line x1="272.35" y1="615.57" x2="286.35" y2="615.57" stroke="#3a4654" stroke-width="1.1" />
<line x1="293.35" y1="590.40" x2="307.35" y2="590.40" stroke="#222" stroke-width="1.1" />
<circle cx="279.35" cy="602.13" r="1.6" fill="#fff" stroke="#1a4174" stroke-width="1.0"/>
<circle cx="279.35" cy="607.75" r="1.6" fill="#fff" stroke="#1a4174" stroke-width="1.0"/>
<circle cx="274.55" cy="615.81" r="1.85" fill="#1a4174"/>
<circle cx="279.35" cy="614.83" r="1.85" fill="#1a4174"/>
<circle cx="284.55" cy="615.81" r="1.6" fill="#fff" stroke="#1a4174" stroke-width="1.0"/>
<circle cx="300.35" cy="556.19" r="1.85" fill="#bb112d"/>
<circle cx="300.35" cy="568.17" r="1.85" fill="#bb112d"/>
<circle cx="300.35" cy="590.40" r="1.85" fill="#bb112d"/>
<circle cx="297.35" cy="603.11" r="1.6" fill="#fff" stroke="#bb112d" stroke-width="1.0"/>
<circle cx="303.35" cy="603.11" r="1.85" fill="#bb112d"/>
<line x1="265.75" y1="540.70" x2="265.75" y2="616.95" stroke="#1a1a1a" stroke-width="1.3" />
<line x1="265.10" y1="616.30" x2="314.05" y2="616.30" stroke="#1a1a1a" stroke-width="1.3" />
<line x1="261.95" y1="616.30" x2="265.75" y2="616.30" stroke="#1a1a1a" stroke-width="1" />
<text transform="translate(258.95,619.40)" font-size="8.8" text-anchor="end" fill="#1a1a1a" stroke="#1a1a1a" stroke-width="0.18" >0</text>
<line x1="261.95" y1="591.87" x2="265.75" y2="591.87" stroke="#1a1a1a" stroke-width="1" />
<text transform="translate(258.95,594.97)" font-size="8.8" text-anchor="end" fill="#1a1a1a" stroke="#1a1a1a" stroke-width="0.18" >5</text>
<line x1="261.95" y1="567.43" x2="265.75" y2="567.43" stroke="#1a1a1a" stroke-width="1" />
<text transform="translate(258.95,570.53)" font-size="8.8" text-anchor="end" fill="#1a1a1a" stroke="#1a1a1a" stroke-width="0.18" >10</text>
<line x1="261.95" y1="543.00" x2="265.75" y2="543.00" stroke="#1a1a1a" stroke-width="1" />
<text transform="translate(258.95,546.10)" font-size="8.8" text-anchor="end" fill="#1a1a1a" stroke="#1a1a1a" stroke-width="0.18" >15</text>
<line x1="279.35" y1="616.30" x2="279.35" y2="619.50" stroke="#1a1a1a" stroke-width="1" />
<line x1="300.35" y1="616.30" x2="300.35" y2="619.50" stroke="#1a1a1a" stroke-width="1" />
<text transform="translate(279.55,630.70)" font-size="9.2" text-anchor="middle" fill="#245689" stroke="#245689" stroke-width="0.18"  textLength="20.8" lengthAdjust="spacingAndGlyphs">CMD</text>
<text transform="translate(300.65,630.70)" font-size="9.2" text-anchor="middle" fill="#c41a36" stroke="#c41a36" stroke-width="0.18"  textLength="16.4" lengthAdjust="spacingAndGlyphs">CMI</text>
<text transform="translate(290.05,523.30)" font-size="8.8" text-anchor="middle" fill="#1a1a1a" stroke="#1a1a1a" stroke-width="0.18" >RASAL2</text>
<text transform="translate(290.05,534.60)" font-size="8.8" text-anchor="middle" fill="#1a1a1a" stroke="#1a1a1a" stroke-width="0.18" >FDR = 0.04</text>
<line x1="356.10" y1="613.07" x2="370.10" y2="613.07" stroke="#3a4654" stroke-width="1.1" />
<line x1="377.10" y1="606.33" x2="391.10" y2="606.33" stroke="#222" stroke-width="1.1" />
<circle cx="357.60" cy="611.32" r="1.6" fill="#fff" stroke="#1a4174" stroke-width="1.0"/>
<circle cx="360.80" cy="612.49" r="1.6" fill="#fff" stroke="#1a4174" stroke-width="1.0"/>
<circle cx="363.80" cy="613.66" r="1.85" fill="#1a4174"/>
<circle cx="366.30" cy="613.07" r="1.85" fill="#1a4174"/>
<circle cx="368.80" cy="612.05" r="1.6" fill="#fff" stroke="#1a4174" stroke-width="1.0"/>
<circle cx="384.10" cy="550.04" r="1.85" fill="#bb112d"/>
<circle cx="384.10" cy="595.48" r="1.85" fill="#bb112d"/>
<circle cx="380.90" cy="606.77" r="1.85" fill="#bb112d"/>
<circle cx="387.10" cy="607.21" r="1.85" fill="#bb112d"/>
<circle cx="384.10" cy="615.71" r="1.85" fill="#bb112d"/>
<line x1="349.50" y1="540.70" x2="349.50" y2="616.95" stroke="#1a1a1a" stroke-width="1.3" />
<line x1="348.85" y1="616.30" x2="397.80" y2="616.30" stroke="#1a1a1a" stroke-width="1.3" />
<line x1="345.70" y1="616.30" x2="349.50" y2="616.30" stroke="#1a1a1a" stroke-width="1" />
<text transform="translate(342.70,619.40)" font-size="8.8" text-anchor="end" fill="#1a1a1a" stroke="#1a1a1a" stroke-width="0.18" >0</text>
<line x1="345.70" y1="601.64" x2="349.50" y2="601.64" stroke="#1a1a1a" stroke-width="1" />
<text transform="translate(342.70,604.74)" font-size="8.8" text-anchor="end" fill="#1a1a1a" stroke="#1a1a1a" stroke-width="0.18" >5</text>
<line x1="345.70" y1="586.98" x2="349.50" y2="586.98" stroke="#1a1a1a" stroke-width="1" />
<text transform="translate(342.70,590.08)" font-size="8.8" text-anchor="end" fill="#1a1a1a" stroke="#1a1a1a" stroke-width="0.18" >10</text>
<line x1="345.70" y1="572.32" x2="349.50" y2="572.32" stroke="#1a1a1a" stroke-width="1" />
<text transform="translate(342.70,575.42)" font-size="8.8" text-anchor="end" fill="#1a1a1a" stroke="#1a1a1a" stroke-width="0.18" >15</text>
<line x1="345.70" y1="557.66" x2="349.50" y2="557.66" stroke="#1a1a1a" stroke-width="1" />
<text transform="translate(342.70,560.76)" font-size="8.8" text-anchor="end" fill="#1a1a1a" stroke="#1a1a1a" stroke-width="0.18" >20</text>
<line x1="345.70" y1="543.00" x2="349.50" y2="543.00" stroke="#1a1a1a" stroke-width="1" />
<text transform="translate(342.70,546.10)" font-size="8.8" text-anchor="end" fill="#1a1a1a" stroke="#1a1a1a" stroke-width="0.18" >25</text>
<line x1="363.10" y1="616.30" x2="363.10" y2="619.50" stroke="#1a1a1a" stroke-width="1" />
<line x1="384.10" y1="616.30" x2="384.10" y2="619.50" stroke="#1a1a1a" stroke-width="1" />
<text transform="translate(363.30,630.70)" font-size="9.2" text-anchor="middle" fill="#245689" stroke="#245689" stroke-width="0.18"  textLength="20.8" lengthAdjust="spacingAndGlyphs">CMD</text>
<text transform="translate(384.40,630.70)" font-size="9.2" text-anchor="middle" fill="#c41a36" stroke="#c41a36" stroke-width="0.18"  textLength="16.4" lengthAdjust="spacingAndGlyphs">CMI</text>
<text transform="translate(373.80,523.30)" font-size="8.8" text-anchor="middle" fill="#1a1a1a" stroke="#1a1a1a" stroke-width="0.18" >FLT3</text>
<text transform="translate(373.80,534.60)" font-size="8.8" text-anchor="middle" fill="#1a1a1a" stroke="#1a1a1a" stroke-width="0.18" >FDR = 0.04</text>
<line x1="439.60" y1="615.02" x2="453.60" y2="615.02" stroke="#3a4654" stroke-width="1.1" />
<line x1="460.60" y1="577.08" x2="474.60" y2="577.08" stroke="#222" stroke-width="1.1" />
<circle cx="441.60" cy="615.02" r="1.6" fill="#fff" stroke="#1a4174" stroke-width="1.0"/>
<circle cx="444.10" cy="613.37" r="1.6" fill="#fff" stroke="#1a4174" stroke-width="1.0"/>
<circle cx="446.60" cy="615.57" r="1.85" fill="#1a4174"/>
<circle cx="449.10" cy="613.37" r="1.6" fill="#fff" stroke="#1a4174" stroke-width="1.0"/>
<circle cx="451.60" cy="615.38" r="1.85" fill="#1a4174"/>
<circle cx="467.60" cy="548.50" r="1.85" fill="#bb112d"/>
<circle cx="467.60" cy="564.62" r="1.85" fill="#bb112d"/>
<circle cx="467.60" cy="577.27" r="1.85" fill="#bb112d"/>
<circle cx="467.60" cy="582.03" r="1.85" fill="#bb112d"/>
<circle cx="467.60" cy="616.30" r="1.85" fill="#bb112d"/>
<line x1="433.00" y1="540.70" x2="433.00" y2="616.95" stroke="#1a1a1a" stroke-width="1.3" />
<line x1="432.35" y1="616.30" x2="481.30" y2="616.30" stroke="#1a1a1a" stroke-width="1.3" />
<line x1="429.20" y1="616.30" x2="433.00" y2="616.30" stroke="#1a1a1a" stroke-width="1" />
<text transform="translate(426.20,619.40)" font-size="8.8" text-anchor="end" fill="#1a1a1a" stroke="#1a1a1a" stroke-width="0.18" >0</text>
<line x1="429.20" y1="597.97" x2="433.00" y2="597.97" stroke="#1a1a1a" stroke-width="1" />
<text transform="translate(426.20,601.07)" font-size="8.8" text-anchor="end" fill="#1a1a1a" stroke="#1a1a1a" stroke-width="0.18" >10</text>
<line x1="429.20" y1="579.65" x2="433.00" y2="579.65" stroke="#1a1a1a" stroke-width="1" />
<text transform="translate(426.20,582.75)" font-size="8.8" text-anchor="end" fill="#1a1a1a" stroke="#1a1a1a" stroke-width="0.18" >20</text>
<line x1="429.20" y1="561.33" x2="433.00" y2="561.33" stroke="#1a1a1a" stroke-width="1" />
<text transform="translate(426.20,564.43)" font-size="8.8" text-anchor="end" fill="#1a1a1a" stroke="#1a1a1a" stroke-width="0.18" >30</text>
<line x1="429.20" y1="543.00" x2="433.00" y2="543.00" stroke="#1a1a1a" stroke-width="1" />
<text transform="translate(426.20,546.10)" font-size="8.8" text-anchor="end" fill="#1a1a1a" stroke="#1a1a1a" stroke-width="0.18" >40</text>
<line x1="446.60" y1="616.30" x2="446.60" y2="619.50" stroke="#1a1a1a" stroke-width="1" />
<line x1="467.60" y1="616.30" x2="467.60" y2="619.50" stroke="#1a1a1a" stroke-width="1" />
<text transform="translate(446.80,630.70)" font-size="9.2" text-anchor="middle" fill="#245689" stroke="#245689" stroke-width="0.18"  textLength="20.8" lengthAdjust="spacingAndGlyphs">CMD</text>
<text transform="translate(467.90,630.70)" font-size="9.2" text-anchor="middle" fill="#c41a36" stroke="#c41a36" stroke-width="0.18"  textLength="16.4" lengthAdjust="spacingAndGlyphs">CMI</text>
<text transform="translate(457.30,523.30)" font-size="8.8" text-anchor="middle" fill="#1a1a1a" stroke="#1a1a1a" stroke-width="0.18" >INSR</text>
<text transform="translate(457.30,534.60)" font-size="8.8" text-anchor="middle" fill="#1a1a1a" stroke="#1a1a1a" stroke-width="0.18" >FDR = 0.008</text>
<line x1="92.85" y1="750.05" x2="106.85" y2="750.05" stroke="#3a4654" stroke-width="1.1" />
<line x1="113.85" y1="746.40" x2="127.85" y2="746.40" stroke="#222" stroke-width="1.1" />
<circle cx="94.85" cy="750.05" r="1.85" fill="#1a4174"/>
<circle cx="98.65" cy="749.32" r="1.6" fill="#fff" stroke="#1a4174" stroke-width="1.0"/>
<circle cx="101.65" cy="750.05" r="1.85" fill="#1a4174"/>
<circle cx="104.85" cy="750.05" r="1.85" fill="#1a4174"/>
<circle cx="120.85" cy="682.43" r="1.85" fill="#bb112d"/>
<circle cx="120.85" cy="701.81" r="1.85" fill="#bb112d"/>
<circle cx="120.85" cy="746.40" r="1.85" fill="#bb112d"/>
<circle cx="117.15" cy="750.60" r="1.6" fill="#fff" stroke="#bb112d" stroke-width="1.0"/>
<circle cx="123.35" cy="750.60" r="1.85" fill="#bb112d"/>
<line x1="86.25" y1="675.20" x2="86.25" y2="751.25" stroke="#1a1a1a" stroke-width="1.3" />
<line x1="85.60" y1="750.60" x2="134.55" y2="750.60" stroke="#1a1a1a" stroke-width="1.3" />
<line x1="82.45" y1="750.60" x2="86.25" y2="750.60" stroke="#1a1a1a" stroke-width="1" />
<text transform="translate(79.45,753.70)" font-size="8.8" text-anchor="end" fill="#1a1a1a" stroke="#1a1a1a" stroke-width="0.18" >0</text>
<line x1="82.45" y1="732.33" x2="86.25" y2="732.33" stroke="#1a1a1a" stroke-width="1" />
<text transform="translate(79.45,735.43)" font-size="8.8" text-anchor="end" fill="#1a1a1a" stroke="#1a1a1a" stroke-width="0.18" >10</text>
<line x1="82.45" y1="714.05" x2="86.25" y2="714.05" stroke="#1a1a1a" stroke-width="1" />
<text transform="translate(79.45,717.15)" font-size="8.8" text-anchor="end" fill="#1a1a1a" stroke="#1a1a1a" stroke-width="0.18" >20</text>
<line x1="82.45" y1="695.77" x2="86.25" y2="695.77" stroke="#1a1a1a" stroke-width="1" />
<text transform="translate(79.45,698.88)" font-size="8.8" text-anchor="end" fill="#1a1a1a" stroke="#1a1a1a" stroke-width="0.18" >30</text>
<line x1="82.45" y1="677.50" x2="86.25" y2="677.50" stroke="#1a1a1a" stroke-width="1" />
<text transform="translate(79.45,680.60)" font-size="8.8" text-anchor="end" fill="#1a1a1a" stroke="#1a1a1a" stroke-width="0.18" >40</text>
<line x1="99.85" y1="750.60" x2="99.85" y2="753.80" stroke="#1a1a1a" stroke-width="1" />
<line x1="120.85" y1="750.60" x2="120.85" y2="753.80" stroke="#1a1a1a" stroke-width="1" />
<text transform="translate(100.05,765.00)" font-size="9.2" text-anchor="middle" fill="#245689" stroke="#245689" stroke-width="0.18"  textLength="20.8" lengthAdjust="spacingAndGlyphs">CMD</text>
<text transform="translate(121.15,765.00)" font-size="9.2" text-anchor="middle" fill="#c41a36" stroke="#c41a36" stroke-width="0.18"  textLength="16.4" lengthAdjust="spacingAndGlyphs">CMI</text>
<text transform="translate(110.55,657.80)" font-size="8.8" text-anchor="middle" fill="#1a1a1a" stroke="#1a1a1a" stroke-width="0.18" >MYLK</text>
<text transform="translate(110.55,669.10)" font-size="8.8" text-anchor="middle" fill="#1a1a1a" stroke="#1a1a1a" stroke-width="0.18" >FDR = 0.02</text>
<line x1="182.85" y1="750.11" x2="196.85" y2="750.11" stroke="#3a4654" stroke-width="1.1" />
<line x1="203.85" y1="714.29" x2="217.85" y2="714.29" stroke="#222" stroke-width="1.1" />
<circle cx="189.35" cy="739.63" r="1.6" fill="#fff" stroke="#1a4174" stroke-width="1.0"/>
<circle cx="184.15" cy="750.36" r="1.85" fill="#1a4174"/>
<circle cx="188.15" cy="749.38" r="1.6" fill="#fff" stroke="#1a4174" stroke-width="1.0"/>
<circle cx="191.65" cy="750.36" r="1.85" fill="#1a4174"/>
<circle cx="194.85" cy="750.36" r="1.85" fill="#1a4174"/>
<circle cx="210.85" cy="688.22" r="1.85" fill="#bb112d"/>
<circle cx="210.85" cy="699.43" r="1.85" fill="#bb112d"/>
<circle cx="210.85" cy="714.29" r="1.85" fill="#bb112d"/>
<circle cx="210.85" cy="744.51" r="1.6" fill="#fff" stroke="#bb112d" stroke-width="1.0"/>
<circle cx="210.85" cy="747.19" r="1.85" fill="#bb112d"/>
<line x1="176.25" y1="675.20" x2="176.25" y2="751.25" stroke="#1a1a1a" stroke-width="1.3" />
<line x1="175.60" y1="750.60" x2="224.55" y2="750.60" stroke="#1a1a1a" stroke-width="1.3" />
<line x1="172.45" y1="750.60" x2="176.25" y2="750.60" stroke="#1a1a1a" stroke-width="1" />
<text transform="translate(169.45,753.70)" font-size="8.8" text-anchor="end" fill="#1a1a1a" stroke="#1a1a1a" stroke-width="0.18" >0</text>
<line x1="172.45" y1="726.23" x2="176.25" y2="726.23" stroke="#1a1a1a" stroke-width="1" />
<text transform="translate(169.45,729.33)" font-size="8.8" text-anchor="end" fill="#1a1a1a" stroke="#1a1a1a" stroke-width="0.18" >10</text>
<line x1="172.45" y1="701.87" x2="176.25" y2="701.87" stroke="#1a1a1a" stroke-width="1" />
<text transform="translate(169.45,704.97)" font-size="8.8" text-anchor="end" fill="#1a1a1a" stroke="#1a1a1a" stroke-width="0.18" >20</text>
<line x1="172.45" y1="677.50" x2="176.25" y2="677.50" stroke="#1a1a1a" stroke-width="1" />
<text transform="translate(169.45,680.60)" font-size="8.8" text-anchor="end" fill="#1a1a1a" stroke="#1a1a1a" stroke-width="0.18" >30</text>
<line x1="189.85" y1="750.60" x2="189.85" y2="753.80" stroke="#1a1a1a" stroke-width="1" />
<line x1="210.85" y1="750.60" x2="210.85" y2="753.80" stroke="#1a1a1a" stroke-width="1" />
<text transform="translate(190.05,765.00)" font-size="9.2" text-anchor="middle" fill="#245689" stroke="#245689" stroke-width="0.18"  textLength="20.8" lengthAdjust="spacingAndGlyphs">CMD</text>
<text transform="translate(211.15,765.00)" font-size="9.2" text-anchor="middle" fill="#c41a36" stroke="#c41a36" stroke-width="0.18"  textLength="16.4" lengthAdjust="spacingAndGlyphs">CMI</text>
<text transform="translate(200.55,657.80)" font-size="8.8" text-anchor="middle" fill="#1a1a1a" stroke="#1a1a1a" stroke-width="0.18" >CAV1</text>
<text transform="translate(200.55,669.10)" font-size="8.8" text-anchor="middle" fill="#1a1a1a" stroke="#1a1a1a" stroke-width="0.18" >FDR = 0.04</text>
<line x1="272.35" y1="697.79" x2="286.35" y2="697.79" stroke="#3a4654" stroke-width="1.1" />
<line x1="293.35" y1="736.53" x2="307.35" y2="736.53" stroke="#222" stroke-width="1.1" />
<circle cx="279.35" cy="684.81" r="1.6" fill="#fff" stroke="#1a4174" stroke-width="1.0"/>
<circle cx="279.35" cy="688.10" r="1.6" fill="#fff" stroke="#1a4174" stroke-width="1.0"/>
<circle cx="279.35" cy="697.60" r="1.6" fill="#fff" stroke="#1a4174" stroke-width="1.0"/>
<circle cx="276.35" cy="706.37" r="1.85" fill="#1a4174"/>
<circle cx="282.15" cy="705.64" r="1.6" fill="#fff" stroke="#1a4174" stroke-width="1.0"/>
<circle cx="300.35" cy="718.07" r="1.6" fill="#fff" stroke="#bb112d" stroke-width="1.0"/>
<circle cx="300.35" cy="729.40" r="1.85" fill="#bb112d"/>
<circle cx="300.35" cy="736.53" r="1.85" fill="#bb112d"/>
<circle cx="303.35" cy="740.73" r="1.85" fill="#bb112d"/>
<circle cx="297.75" cy="742.56" r="1.85" fill="#bb112d"/>
<line x1="265.75" y1="675.20" x2="265.75" y2="751.25" stroke="#1a1a1a" stroke-width="1.3" />
<line x1="265.10" y1="750.60" x2="314.05" y2="750.60" stroke="#1a1a1a" stroke-width="1.3" />
<line x1="261.95" y1="750.60" x2="265.75" y2="750.60" stroke="#1a1a1a" stroke-width="1" />
<text transform="translate(258.95,753.70)" font-size="8.8" text-anchor="end" fill="#1a1a1a" stroke="#1a1a1a" stroke-width="0.18" >0</text>
<line x1="261.95" y1="732.33" x2="265.75" y2="732.33" stroke="#1a1a1a" stroke-width="1" />
<text transform="translate(258.95,735.43)" font-size="8.8" text-anchor="end" fill="#1a1a1a" stroke="#1a1a1a" stroke-width="0.18" >5</text>
<line x1="261.95" y1="714.05" x2="265.75" y2="714.05" stroke="#1a1a1a" stroke-width="1" />
<text transform="translate(258.95,717.15)" font-size="8.8" text-anchor="end" fill="#1a1a1a" stroke="#1a1a1a" stroke-width="0.18" >10</text>
<line x1="261.95" y1="695.77" x2="265.75" y2="695.77" stroke="#1a1a1a" stroke-width="1" />
<text transform="translate(258.95,698.88)" font-size="8.8" text-anchor="end" fill="#1a1a1a" stroke="#1a1a1a" stroke-width="0.18" >15</text>
<line x1="261.95" y1="677.50" x2="265.75" y2="677.50" stroke="#1a1a1a" stroke-width="1" />
<text transform="translate(258.95,680.60)" font-size="8.8" text-anchor="end" fill="#1a1a1a" stroke="#1a1a1a" stroke-width="0.18" >20</text>
<line x1="279.35" y1="750.60" x2="279.35" y2="753.80" stroke="#1a1a1a" stroke-width="1" />
<line x1="300.35" y1="750.60" x2="300.35" y2="753.80" stroke="#1a1a1a" stroke-width="1" />
<text transform="translate(279.55,765.00)" font-size="9.2" text-anchor="middle" fill="#245689" stroke="#245689" stroke-width="0.18"  textLength="20.8" lengthAdjust="spacingAndGlyphs">CMD</text>
<text transform="translate(300.65,765.00)" font-size="9.2" text-anchor="middle" fill="#c41a36" stroke="#c41a36" stroke-width="0.18"  textLength="16.4" lengthAdjust="spacingAndGlyphs">CMI</text>
<text transform="translate(290.05,657.80)" font-size="8.8" text-anchor="middle" fill="#1a1a1a" stroke="#1a1a1a" stroke-width="0.18" >FYN</text>
<text transform="translate(290.05,669.10)" font-size="8.8" text-anchor="middle" fill="#1a1a1a" stroke="#1a1a1a" stroke-width="0.18" >FDR = 0.03</text>
<line x1="356.10" y1="723.92" x2="370.10" y2="723.92" stroke="#3a4654" stroke-width="1.1" />
<line x1="377.10" y1="742.56" x2="391.10" y2="742.56" stroke="#222" stroke-width="1.1" />
<circle cx="363.10" cy="695.77" r="1.6" fill="#fff" stroke="#1a4174" stroke-width="1.0"/>
<circle cx="363.10" cy="710.03" r="1.6" fill="#fff" stroke="#1a4174" stroke-width="1.0"/>
<circle cx="363.10" cy="723.92" r="1.85" fill="#1a4174"/>
<circle cx="363.10" cy="728.67" r="1.85" fill="#1a4174"/>
<circle cx="363.10" cy="733.42" r="1.6" fill="#fff" stroke="#1a4174" stroke-width="1.0"/>
<circle cx="384.10" cy="727.94" r="1.85" fill="#bb112d"/>
<circle cx="381.60" cy="741.46" r="1.85" fill="#bb112d"/>
<circle cx="389.80" cy="741.83" r="1.85" fill="#bb112d"/>
<circle cx="379.10" cy="743.84" r="1.85" fill="#bb112d"/>
<circle cx="385.80" cy="743.29" r="1.85" fill="#bb112d"/>
<line x1="349.50" y1="675.20" x2="349.50" y2="751.25" stroke="#1a1a1a" stroke-width="1.3" />
<line x1="348.85" y1="750.60" x2="397.80" y2="750.60" stroke="#1a1a1a" stroke-width="1.3" />
<line x1="345.70" y1="750.60" x2="349.50" y2="750.60" stroke="#1a1a1a" stroke-width="1" />
<text transform="translate(342.70,753.70)" font-size="8.8" text-anchor="end" fill="#1a1a1a" stroke="#1a1a1a" stroke-width="0.18" >0</text>
<line x1="345.70" y1="732.33" x2="349.50" y2="732.33" stroke="#1a1a1a" stroke-width="1" />
<text transform="translate(342.70,735.43)" font-size="8.8" text-anchor="end" fill="#1a1a1a" stroke="#1a1a1a" stroke-width="0.18" >5</text>
<line x1="345.70" y1="714.05" x2="349.50" y2="714.05" stroke="#1a1a1a" stroke-width="1" />
<text transform="translate(342.70,717.15)" font-size="8.8" text-anchor="end" fill="#1a1a1a" stroke="#1a1a1a" stroke-width="0.18" >10</text>
<line x1="345.70" y1="695.77" x2="349.50" y2="695.77" stroke="#1a1a1a" stroke-width="1" />
<text transform="translate(342.70,698.88)" font-size="8.8" text-anchor="end" fill="#1a1a1a" stroke="#1a1a1a" stroke-width="0.18" >15</text>
<line x1="345.70" y1="677.50" x2="349.50" y2="677.50" stroke="#1a1a1a" stroke-width="1" />
<text transform="translate(342.70,680.60)" font-size="8.8" text-anchor="end" fill="#1a1a1a" stroke="#1a1a1a" stroke-width="0.18" >20</text>
<line x1="363.10" y1="750.60" x2="363.10" y2="753.80" stroke="#1a1a1a" stroke-width="1" />
<line x1="384.10" y1="750.60" x2="384.10" y2="753.80" stroke="#1a1a1a" stroke-width="1" />
<text transform="translate(363.30,765.00)" font-size="9.2" text-anchor="middle" fill="#245689" stroke="#245689" stroke-width="0.18"  textLength="20.8" lengthAdjust="spacingAndGlyphs">CMD</text>
<text transform="translate(384.40,765.00)" font-size="9.2" text-anchor="middle" fill="#c41a36" stroke="#c41a36" stroke-width="0.18"  textLength="16.4" lengthAdjust="spacingAndGlyphs">CMI</text>
<text transform="translate(373.80,657.80)" font-size="8.8" text-anchor="middle" fill="#1a1a1a" stroke="#1a1a1a" stroke-width="0.18" >ITGA3</text>
<text transform="translate(373.80,669.10)" font-size="8.8" text-anchor="middle" fill="#1a1a1a" stroke="#1a1a1a" stroke-width="0.18" >FDR = 0.02</text>
<line x1="439.60" y1="705.64" x2="453.60" y2="705.64" stroke="#3a4654" stroke-width="1.1" />
<line x1="460.60" y1="733.06" x2="474.60" y2="733.06" stroke="#222" stroke-width="1.1" />
<circle cx="446.60" cy="695.04" r="1.6" fill="#fff" stroke="#1a4174" stroke-width="1.0"/>
<circle cx="446.60" cy="698.33" r="1.85" fill="#1a4174"/>
<circle cx="442.90" cy="705.64" r="1.85" fill="#1a4174"/>
<circle cx="449.40" cy="706.19" r="1.6" fill="#fff" stroke="#1a4174" stroke-width="1.0"/>
<circle cx="446.60" cy="727.21" r="1.6" fill="#fff" stroke="#1a4174" stroke-width="1.0"/>
<circle cx="467.60" cy="728.30" r="1.85" fill="#bb112d"/>
<circle cx="464.60" cy="733.42" r="1.6" fill="#fff" stroke="#bb112d" stroke-width="1.0"/>
<circle cx="470.60" cy="731.78" r="1.85" fill="#bb112d"/>
<circle cx="467.60" cy="739.27" r="1.85" fill="#bb112d"/>
<circle cx="467.60" cy="746.95" r="1.85" fill="#bb112d"/>
<line x1="433.00" y1="675.20" x2="433.00" y2="751.25" stroke="#1a1a1a" stroke-width="1.3" />
<line x1="432.35" y1="750.60" x2="481.30" y2="750.60" stroke="#1a1a1a" stroke-width="1.3" />
<line x1="429.20" y1="750.60" x2="433.00" y2="750.60" stroke="#1a1a1a" stroke-width="1" />
<text transform="translate(426.20,753.70)" font-size="8.8" text-anchor="end" fill="#1a1a1a" stroke="#1a1a1a" stroke-width="0.18" >0</text>
<line x1="429.20" y1="732.33" x2="433.00" y2="732.33" stroke="#1a1a1a" stroke-width="1" />
<text transform="translate(426.20,735.43)" font-size="8.8" text-anchor="end" fill="#1a1a1a" stroke="#1a1a1a" stroke-width="0.18" >5</text>
<line x1="429.20" y1="714.05" x2="433.00" y2="714.05" stroke="#1a1a1a" stroke-width="1" />
<text transform="translate(426.20,717.15)" font-size="8.8" text-anchor="end" fill="#1a1a1a" stroke="#1a1a1a" stroke-width="0.18" >10</text>
<line x1="429.20" y1="695.77" x2="433.00" y2="695.77" stroke="#1a1a1a" stroke-width="1" />
<text transform="translate(426.20,698.88)" font-size="8.8" text-anchor="end" fill="#1a1a1a" stroke="#1a1a1a" stroke-width="0.18" >15</text>
<line x1="429.20" y1="677.50" x2="433.00" y2="677.50" stroke="#1a1a1a" stroke-width="1" />
<text transform="translate(426.20,680.60)" font-size="8.8" text-anchor="end" fill="#1a1a1a" stroke="#1a1a1a" stroke-width="0.18" >20</text>
<line x1="446.60" y1="750.60" x2="446.60" y2="753.80" stroke="#1a1a1a" stroke-width="1" />
<line x1="467.60" y1="750.60" x2="467.60" y2="753.80" stroke="#1a1a1a" stroke-width="1" />
<text transform="translate(446.80,765.00)" font-size="9.2" text-anchor="middle" fill="#245689" stroke="#245689" stroke-width="0.18"  textLength="20.8" lengthAdjust="spacingAndGlyphs">CMD</text>
<text transform="translate(467.90,765.00)" font-size="9.2" text-anchor="middle" fill="#c41a36" stroke="#c41a36" stroke-width="0.18"  textLength="16.4" lengthAdjust="spacingAndGlyphs">CMI</text>
<text transform="translate(457.30,657.80)" font-size="8.8" text-anchor="middle" fill="#1a1a1a" stroke="#1a1a1a" stroke-width="0.18" >LAMA5</text>
<text transform="translate(457.30,669.10)" font-size="8.8" text-anchor="middle" fill="#1a1a1a" stroke="#1a1a1a" stroke-width="0.18" >FDR = 0.02</text>
<text transform="translate(50.00,578.80) rotate(-90)" font-size="10" text-anchor="middle" fill="#2b2b2b" stroke="#2b2b2b" stroke-width="0.1"  textLength="92.5" lengthAdjust="spacingAndGlyphs">Ras signaling genes</text>
<line x1="50.80" y1="532.40" x2="50.80" y2="625.20" stroke="#2b2b2b" stroke-width="0.7" />
<text transform="translate(62.80,577.00) rotate(-90)" font-size="10.01" text-anchor="middle" fill="#1a1a1a" stroke="#1a1a1a" stroke-width="0.3"  textLength="63.8" lengthAdjust="spacingAndGlyphs">Relative expression</text>
<text transform="translate(50.00,706.80) rotate(-90)" font-size="10" text-anchor="middle" fill="#2b2b2b" stroke="#2b2b2b" stroke-width="0.1"  textLength="68.4" lengthAdjust="spacingAndGlyphs">Focal adhesion</text>
<line x1="50.80" y1="672.50" x2="50.80" y2="741.00" stroke="#2b2b2b" stroke-width="0.7" />
<text transform="translate(62.80,707.40) rotate(-90)" font-size="10.01" text-anchor="middle" fill="#1a1a1a" stroke="#1a1a1a" stroke-width="0.3"  textLength="63.8" lengthAdjust="spacingAndGlyphs">Relative expression</text>
</svg>
<div id="frame"></div>
</body></html>
